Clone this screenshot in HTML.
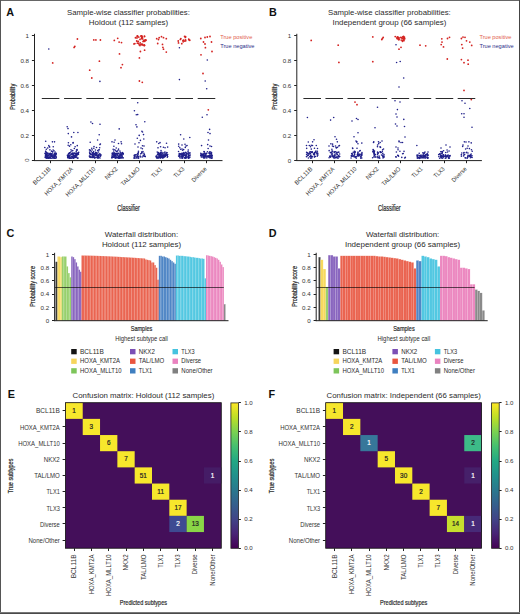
<!DOCTYPE html>
<html><head><meta charset="utf-8"><style>
html,body{margin:0;padding:0;background:#fff;}
#fig{position:relative;width:520px;height:614px;overflow:hidden;background:#fff;}
#fig svg{position:absolute;left:0;top:0;}
text{font-family:"Liberation Sans", sans-serif;}
</style></head><body><div id="fig">
<svg width="520" height="614" viewBox="0 0 520 614">
<rect x="0" y="0" width="520" height="614" fill="#fff"/>
<rect x="0" y="0" width="520" height="1" fill="#666"/>
<rect x="0" y="0" width="1" height="614" fill="#555"/>
<rect x="519" y="0" width="1" height="614" fill="#444"/>
<rect x="0" y="612" width="520" height="2" fill="#4a4a4a"/>
<rect x="0" y="612" width="520" height="0.5" fill="#fff" fill-opacity="0.5"/>
<text x="6.30" y="15.80" font-size="10.8" text-anchor="start" fill="#111" font-weight="bold" >A</text>
<text x="268.90" y="15.80" font-size="10.8" text-anchor="start" fill="#111" font-weight="bold" >B</text>
<text x="6.60" y="237.30" font-size="10.8" text-anchor="start" fill="#111" font-weight="bold" >C</text>
<text x="268.70" y="237.00" font-size="10.8" text-anchor="start" fill="#111" font-weight="bold" >D</text>
<text x="7.80" y="398.00" font-size="10.8" text-anchor="start" fill="#111" font-weight="bold" >E</text>
<text x="268.60" y="398.00" font-size="10.8" text-anchor="start" fill="#111" font-weight="bold" >F</text>
<text x="128.50" y="15.30" font-size="7.8" text-anchor="middle" fill="#2b2b2b" textLength="122.8" lengthAdjust="spacingAndGlyphs" >Sample-wise classifier probabilities:</text>
<text x="128.50" y="25.00" font-size="7.8" text-anchor="middle" fill="#2b2b2b" textLength="79.4" lengthAdjust="spacingAndGlyphs" >Holdout (112 samples)</text>
<text x="220.20" y="38.60" font-size="5.65" text-anchor="start" fill="#e2604e" >True positive</text>
<text x="220.20" y="47.60" font-size="5.65" text-anchor="start" fill="#2e2e88" >True negative</text>
<line x1="41.80" y1="98.50" x2="59.40" y2="98.50" stroke="#2a2a2a" stroke-width="1.0"/>
<line x1="64.07" y1="98.50" x2="81.67" y2="98.50" stroke="#2a2a2a" stroke-width="1.0"/>
<line x1="86.34" y1="98.50" x2="103.94" y2="98.50" stroke="#2a2a2a" stroke-width="1.0"/>
<line x1="108.61" y1="98.50" x2="126.21" y2="98.50" stroke="#2a2a2a" stroke-width="1.0"/>
<line x1="130.88" y1="98.50" x2="148.48" y2="98.50" stroke="#2a2a2a" stroke-width="1.0"/>
<line x1="153.15" y1="98.50" x2="170.75" y2="98.50" stroke="#2a2a2a" stroke-width="1.0"/>
<line x1="175.42" y1="98.50" x2="193.02" y2="98.50" stroke="#2a2a2a" stroke-width="1.0"/>
<line x1="197.69" y1="98.50" x2="215.29" y2="98.50" stroke="#2a2a2a" stroke-width="1.0"/>
<circle cx="48.80" cy="49.00" r="0.8" fill="#20208a"/>
<circle cx="52.70" cy="62.90" r="0.9" fill="#d42422"/>
<circle cx="45.70" cy="141.20" r="0.8" fill="#20208a"/>
<circle cx="48.80" cy="145.50" r="0.8" fill="#20208a"/>
<circle cx="55.52" cy="155.43" r="0.8" fill="#20208a"/>
<circle cx="51.61" cy="155.70" r="0.8" fill="#20208a"/>
<circle cx="52.11" cy="155.68" r="0.8" fill="#20208a"/>
<circle cx="48.32" cy="157.86" r="0.8" fill="#20208a"/>
<circle cx="52.84" cy="154.12" r="0.8" fill="#20208a"/>
<circle cx="55.99" cy="153.22" r="0.8" fill="#20208a"/>
<circle cx="46.63" cy="155.13" r="0.8" fill="#20208a"/>
<circle cx="45.49" cy="155.59" r="0.8" fill="#20208a"/>
<circle cx="45.15" cy="157.09" r="0.8" fill="#20208a"/>
<circle cx="54.57" cy="156.05" r="0.8" fill="#20208a"/>
<circle cx="50.60" cy="155.00" r="0.8" fill="#20208a"/>
<circle cx="48.03" cy="155.96" r="0.8" fill="#20208a"/>
<circle cx="54.55" cy="141.85" r="0.8" fill="#20208a"/>
<circle cx="47.46" cy="156.70" r="0.8" fill="#20208a"/>
<circle cx="53.69" cy="157.98" r="0.8" fill="#20208a"/>
<circle cx="49.28" cy="153.93" r="0.8" fill="#20208a"/>
<circle cx="44.81" cy="147.44" r="0.8" fill="#20208a"/>
<circle cx="50.25" cy="153.59" r="0.8" fill="#20208a"/>
<circle cx="45.65" cy="151.59" r="0.8" fill="#20208a"/>
<circle cx="47.93" cy="154.28" r="0.8" fill="#20208a"/>
<circle cx="55.98" cy="156.61" r="0.8" fill="#20208a"/>
<circle cx="47.66" cy="157.73" r="0.8" fill="#20208a"/>
<circle cx="54.05" cy="158.04" r="0.8" fill="#20208a"/>
<circle cx="49.99" cy="155.43" r="0.8" fill="#20208a"/>
<circle cx="46.32" cy="154.53" r="0.8" fill="#20208a"/>
<circle cx="49.68" cy="157.74" r="0.8" fill="#20208a"/>
<circle cx="56.06" cy="156.94" r="0.8" fill="#20208a"/>
<circle cx="55.06" cy="152.03" r="0.8" fill="#20208a"/>
<circle cx="54.71" cy="156.29" r="0.8" fill="#20208a"/>
<circle cx="56.28" cy="157.83" r="0.8" fill="#20208a"/>
<circle cx="53.76" cy="157.00" r="0.8" fill="#20208a"/>
<circle cx="45.65" cy="156.80" r="0.8" fill="#20208a"/>
<circle cx="47.62" cy="155.31" r="0.8" fill="#20208a"/>
<circle cx="50.06" cy="156.41" r="0.8" fill="#20208a"/>
<circle cx="51.47" cy="151.13" r="0.8" fill="#20208a"/>
<circle cx="46.59" cy="152.51" r="0.8" fill="#20208a"/>
<circle cx="47.69" cy="147.97" r="0.8" fill="#20208a"/>
<circle cx="55.71" cy="154.49" r="0.8" fill="#20208a"/>
<circle cx="55.03" cy="153.39" r="0.8" fill="#20208a"/>
<circle cx="46.00" cy="156.15" r="0.8" fill="#20208a"/>
<circle cx="47.57" cy="153.32" r="0.8" fill="#20208a"/>
<circle cx="54.36" cy="157.01" r="0.8" fill="#20208a"/>
<circle cx="46.84" cy="156.82" r="0.8" fill="#20208a"/>
<circle cx="47.45" cy="157.99" r="0.8" fill="#20208a"/>
<circle cx="51.93" cy="153.90" r="0.8" fill="#20208a"/>
<circle cx="47.17" cy="153.56" r="0.8" fill="#20208a"/>
<circle cx="49.97" cy="156.94" r="0.8" fill="#20208a"/>
<circle cx="49.08" cy="157.43" r="0.8" fill="#20208a"/>
<circle cx="49.00" cy="157.66" r="0.8" fill="#20208a"/>
<circle cx="52.42" cy="141.85" r="0.8" fill="#20208a"/>
<circle cx="46.43" cy="155.30" r="0.8" fill="#20208a"/>
<circle cx="55.36" cy="158.26" r="0.8" fill="#20208a"/>
<circle cx="45.05" cy="153.32" r="0.8" fill="#20208a"/>
<circle cx="53.27" cy="155.83" r="0.8" fill="#20208a"/>
<circle cx="45.67" cy="153.13" r="0.8" fill="#20208a"/>
<circle cx="55.24" cy="154.50" r="0.8" fill="#20208a"/>
<circle cx="54.00" cy="154.67" r="0.8" fill="#20208a"/>
<circle cx="52.75" cy="151.81" r="0.8" fill="#20208a"/>
<circle cx="49.64" cy="146.93" r="0.8" fill="#20208a"/>
<circle cx="51.44" cy="153.84" r="0.8" fill="#20208a"/>
<circle cx="51.56" cy="156.35" r="0.8" fill="#20208a"/>
<circle cx="52.22" cy="157.93" r="0.8" fill="#20208a"/>
<circle cx="53.25" cy="146.72" r="0.8" fill="#20208a"/>
<circle cx="51.54" cy="154.51" r="0.8" fill="#20208a"/>
<circle cx="45.77" cy="153.97" r="0.8" fill="#20208a"/>
<circle cx="51.77" cy="158.19" r="0.8" fill="#20208a"/>
<circle cx="52.90" cy="157.15" r="0.8" fill="#20208a"/>
<circle cx="55.48" cy="155.14" r="0.8" fill="#20208a"/>
<circle cx="48.29" cy="158.29" r="0.8" fill="#20208a"/>
<circle cx="46.77" cy="157.29" r="0.8" fill="#20208a"/>
<circle cx="49.93" cy="149.86" r="0.8" fill="#20208a"/>
<circle cx="52.52" cy="151.93" r="0.8" fill="#20208a"/>
<circle cx="54.15" cy="156.10" r="0.8" fill="#20208a"/>
<circle cx="49.26" cy="146.70" r="0.8" fill="#20208a"/>
<circle cx="46.38" cy="156.70" r="0.8" fill="#20208a"/>
<circle cx="54.65" cy="153.98" r="0.8" fill="#20208a"/>
<circle cx="48.01" cy="153.39" r="0.8" fill="#20208a"/>
<circle cx="47.99" cy="156.00" r="0.8" fill="#20208a"/>
<circle cx="52.06" cy="156.19" r="0.8" fill="#20208a"/>
<circle cx="54.53" cy="156.70" r="0.8" fill="#20208a"/>
<circle cx="45.67" cy="151.30" r="0.8" fill="#20208a"/>
<circle cx="45.28" cy="153.79" r="0.8" fill="#20208a"/>
<circle cx="48.38" cy="155.37" r="0.8" fill="#20208a"/>
<circle cx="46.38" cy="158.25" r="0.8" fill="#20208a"/>
<circle cx="54.42" cy="158.22" r="0.8" fill="#20208a"/>
<circle cx="45.34" cy="157.61" r="0.8" fill="#20208a"/>
<circle cx="52.11" cy="156.02" r="0.8" fill="#20208a"/>
<circle cx="55.92" cy="154.13" r="0.8" fill="#20208a"/>
<circle cx="50.31" cy="157.31" r="0.8" fill="#20208a"/>
<circle cx="50.28" cy="158.29" r="0.8" fill="#20208a"/>
<circle cx="47.96" cy="157.41" r="0.8" fill="#20208a"/>
<circle cx="50.84" cy="154.71" r="0.8" fill="#20208a"/>
<circle cx="49.36" cy="154.40" r="0.8" fill="#20208a"/>
<circle cx="45.81" cy="153.61" r="0.8" fill="#20208a"/>
<circle cx="46.31" cy="149.25" r="0.8" fill="#20208a"/>
<circle cx="55.36" cy="155.08" r="0.8" fill="#20208a"/>
<circle cx="55.00" cy="155.38" r="0.8" fill="#20208a"/>
<circle cx="50.18" cy="153.42" r="0.8" fill="#20208a"/>
<circle cx="53.17" cy="157.28" r="0.8" fill="#20208a"/>
<circle cx="53.12" cy="150.02" r="0.8" fill="#20208a"/>
<circle cx="56.17" cy="153.65" r="0.8" fill="#20208a"/>
<circle cx="53.97" cy="150.80" r="0.8" fill="#20208a"/>
<circle cx="54.73" cy="153.60" r="0.8" fill="#20208a"/>
<circle cx="49.91" cy="157.92" r="0.8" fill="#20208a"/>
<circle cx="50.45" cy="154.34" r="0.8" fill="#20208a"/>
<circle cx="45.54" cy="154.12" r="0.8" fill="#20208a"/>
<circle cx="48.69" cy="157.45" r="0.8" fill="#20208a"/>
<circle cx="46.52" cy="157.62" r="0.8" fill="#20208a"/>
<circle cx="74.80" cy="46.40" r="0.9" fill="#d42422"/>
<circle cx="74.10" cy="47.40" r="0.9" fill="#d42422"/>
<circle cx="77.40" cy="39.00" r="0.9" fill="#d42422"/>
<circle cx="67.20" cy="126.80" r="0.8" fill="#20208a"/>
<circle cx="68.00" cy="128.60" r="0.8" fill="#20208a"/>
<circle cx="68.30" cy="133.60" r="0.8" fill="#20208a"/>
<circle cx="73.80" cy="132.50" r="0.8" fill="#20208a"/>
<circle cx="77.90" cy="132.50" r="0.8" fill="#20208a"/>
<circle cx="71.50" cy="136.90" r="0.8" fill="#20208a"/>
<circle cx="70.80" cy="144.80" r="0.8" fill="#20208a"/>
<circle cx="73.00" cy="143.00" r="0.8" fill="#20208a"/>
<circle cx="76.81" cy="154.57" r="0.8" fill="#20208a"/>
<circle cx="72.78" cy="153.41" r="0.8" fill="#20208a"/>
<circle cx="69.64" cy="152.85" r="0.8" fill="#20208a"/>
<circle cx="75.52" cy="156.83" r="0.8" fill="#20208a"/>
<circle cx="76.86" cy="155.62" r="0.8" fill="#20208a"/>
<circle cx="71.49" cy="156.72" r="0.8" fill="#20208a"/>
<circle cx="69.49" cy="146.14" r="0.8" fill="#20208a"/>
<circle cx="73.15" cy="142.67" r="0.8" fill="#20208a"/>
<circle cx="73.29" cy="157.30" r="0.8" fill="#20208a"/>
<circle cx="67.39" cy="155.19" r="0.8" fill="#20208a"/>
<circle cx="71.72" cy="150.93" r="0.8" fill="#20208a"/>
<circle cx="72.77" cy="150.62" r="0.8" fill="#20208a"/>
<circle cx="73.32" cy="158.01" r="0.8" fill="#20208a"/>
<circle cx="77.78" cy="153.35" r="0.8" fill="#20208a"/>
<circle cx="68.54" cy="155.88" r="0.8" fill="#20208a"/>
<circle cx="77.52" cy="154.09" r="0.8" fill="#20208a"/>
<circle cx="69.29" cy="156.69" r="0.8" fill="#20208a"/>
<circle cx="68.57" cy="153.52" r="0.8" fill="#20208a"/>
<circle cx="69.32" cy="158.23" r="0.8" fill="#20208a"/>
<circle cx="70.81" cy="154.76" r="0.8" fill="#20208a"/>
<circle cx="68.29" cy="155.11" r="0.8" fill="#20208a"/>
<circle cx="72.99" cy="157.71" r="0.8" fill="#20208a"/>
<circle cx="73.22" cy="157.32" r="0.8" fill="#20208a"/>
<circle cx="71.87" cy="156.39" r="0.8" fill="#20208a"/>
<circle cx="69.44" cy="157.52" r="0.8" fill="#20208a"/>
<circle cx="73.21" cy="155.01" r="0.8" fill="#20208a"/>
<circle cx="77.01" cy="150.26" r="0.8" fill="#20208a"/>
<circle cx="76.47" cy="154.48" r="0.8" fill="#20208a"/>
<circle cx="70.72" cy="151.98" r="0.8" fill="#20208a"/>
<circle cx="78.65" cy="152.38" r="0.8" fill="#20208a"/>
<circle cx="69.85" cy="152.69" r="0.8" fill="#20208a"/>
<circle cx="68.20" cy="156.99" r="0.8" fill="#20208a"/>
<circle cx="76.23" cy="151.47" r="0.8" fill="#20208a"/>
<circle cx="75.02" cy="156.25" r="0.8" fill="#20208a"/>
<circle cx="74.99" cy="157.30" r="0.8" fill="#20208a"/>
<circle cx="68.41" cy="142.68" r="0.8" fill="#20208a"/>
<circle cx="72.90" cy="154.39" r="0.8" fill="#20208a"/>
<circle cx="67.89" cy="157.36" r="0.8" fill="#20208a"/>
<circle cx="73.47" cy="158.15" r="0.8" fill="#20208a"/>
<circle cx="68.77" cy="155.38" r="0.8" fill="#20208a"/>
<circle cx="76.82" cy="157.28" r="0.8" fill="#20208a"/>
<circle cx="68.17" cy="145.21" r="0.8" fill="#20208a"/>
<circle cx="72.43" cy="153.38" r="0.8" fill="#20208a"/>
<circle cx="72.49" cy="156.64" r="0.8" fill="#20208a"/>
<circle cx="74.04" cy="156.10" r="0.8" fill="#20208a"/>
<circle cx="76.86" cy="154.69" r="0.8" fill="#20208a"/>
<circle cx="75.65" cy="155.98" r="0.8" fill="#20208a"/>
<circle cx="68.98" cy="157.33" r="0.8" fill="#20208a"/>
<circle cx="77.43" cy="158.27" r="0.8" fill="#20208a"/>
<circle cx="77.05" cy="149.44" r="0.8" fill="#20208a"/>
<circle cx="74.03" cy="156.24" r="0.8" fill="#20208a"/>
<circle cx="76.41" cy="153.22" r="0.8" fill="#20208a"/>
<circle cx="75.71" cy="153.59" r="0.8" fill="#20208a"/>
<circle cx="71.78" cy="154.09" r="0.8" fill="#20208a"/>
<circle cx="75.13" cy="146.72" r="0.8" fill="#20208a"/>
<circle cx="71.78" cy="154.35" r="0.8" fill="#20208a"/>
<circle cx="71.03" cy="157.98" r="0.8" fill="#20208a"/>
<circle cx="71.20" cy="158.29" r="0.8" fill="#20208a"/>
<circle cx="69.76" cy="155.09" r="0.8" fill="#20208a"/>
<circle cx="70.99" cy="149.81" r="0.8" fill="#20208a"/>
<circle cx="73.25" cy="155.37" r="0.8" fill="#20208a"/>
<circle cx="74.52" cy="153.13" r="0.8" fill="#20208a"/>
<circle cx="78.44" cy="154.37" r="0.8" fill="#20208a"/>
<circle cx="75.64" cy="155.13" r="0.8" fill="#20208a"/>
<circle cx="67.66" cy="156.25" r="0.8" fill="#20208a"/>
<circle cx="68.21" cy="156.39" r="0.8" fill="#20208a"/>
<circle cx="73.45" cy="153.62" r="0.8" fill="#20208a"/>
<circle cx="73.66" cy="153.30" r="0.8" fill="#20208a"/>
<circle cx="76.46" cy="150.05" r="0.8" fill="#20208a"/>
<circle cx="75.88" cy="155.23" r="0.8" fill="#20208a"/>
<circle cx="68.93" cy="153.49" r="0.8" fill="#20208a"/>
<circle cx="72.82" cy="157.47" r="0.8" fill="#20208a"/>
<circle cx="78.04" cy="158.04" r="0.8" fill="#20208a"/>
<circle cx="74.00" cy="155.60" r="0.8" fill="#20208a"/>
<circle cx="74.67" cy="156.86" r="0.8" fill="#20208a"/>
<circle cx="75.38" cy="156.87" r="0.8" fill="#20208a"/>
<circle cx="69.91" cy="158.28" r="0.8" fill="#20208a"/>
<circle cx="75.82" cy="157.53" r="0.8" fill="#20208a"/>
<circle cx="75.75" cy="153.66" r="0.8" fill="#20208a"/>
<circle cx="78.03" cy="153.18" r="0.8" fill="#20208a"/>
<circle cx="72.05" cy="153.62" r="0.8" fill="#20208a"/>
<circle cx="69.90" cy="153.27" r="0.8" fill="#20208a"/>
<circle cx="75.45" cy="153.45" r="0.8" fill="#20208a"/>
<circle cx="76.54" cy="153.24" r="0.8" fill="#20208a"/>
<circle cx="74.31" cy="157.75" r="0.8" fill="#20208a"/>
<circle cx="67.67" cy="157.29" r="0.8" fill="#20208a"/>
<circle cx="72.21" cy="157.70" r="0.8" fill="#20208a"/>
<circle cx="70.11" cy="155.97" r="0.8" fill="#20208a"/>
<circle cx="76.09" cy="156.16" r="0.8" fill="#20208a"/>
<circle cx="78.12" cy="153.14" r="0.8" fill="#20208a"/>
<circle cx="68.39" cy="157.10" r="0.8" fill="#20208a"/>
<circle cx="74.32" cy="148.48" r="0.8" fill="#20208a"/>
<circle cx="75.02" cy="156.93" r="0.8" fill="#20208a"/>
<circle cx="74.41" cy="155.26" r="0.8" fill="#20208a"/>
<circle cx="69.96" cy="157.36" r="0.8" fill="#20208a"/>
<circle cx="77.26" cy="145.64" r="0.8" fill="#20208a"/>
<circle cx="70.21" cy="158.03" r="0.8" fill="#20208a"/>
<circle cx="68.26" cy="155.09" r="0.8" fill="#20208a"/>
<circle cx="68.07" cy="157.97" r="0.8" fill="#20208a"/>
<circle cx="74.39" cy="155.47" r="0.8" fill="#20208a"/>
<circle cx="69.51" cy="155.85" r="0.8" fill="#20208a"/>
<circle cx="93.80" cy="39.90" r="0.9" fill="#d42422"/>
<circle cx="95.90" cy="39.90" r="0.9" fill="#d42422"/>
<circle cx="100.40" cy="40.00" r="0.9" fill="#d42422"/>
<circle cx="99.40" cy="61.20" r="0.9" fill="#d42422"/>
<circle cx="89.70" cy="70.20" r="0.9" fill="#d42422"/>
<circle cx="91.80" cy="78.00" r="0.9" fill="#d42422"/>
<circle cx="99.90" cy="81.40" r="0.8" fill="#20208a"/>
<circle cx="90.90" cy="122.00" r="0.8" fill="#20208a"/>
<circle cx="92.50" cy="123.50" r="0.8" fill="#20208a"/>
<circle cx="100.00" cy="124.20" r="0.8" fill="#20208a"/>
<circle cx="99.20" cy="134.80" r="0.8" fill="#20208a"/>
<circle cx="97.60" cy="140.00" r="0.8" fill="#20208a"/>
<circle cx="90.20" cy="142.20" r="0.8" fill="#20208a"/>
<circle cx="94.00" cy="146.50" r="0.8" fill="#20208a"/>
<circle cx="96.50" cy="147.50" r="0.8" fill="#20208a"/>
<circle cx="100.40" cy="144.00" r="0.8" fill="#20208a"/>
<circle cx="99.07" cy="154.46" r="0.8" fill="#20208a"/>
<circle cx="98.73" cy="157.72" r="0.8" fill="#20208a"/>
<circle cx="91.81" cy="154.33" r="0.8" fill="#20208a"/>
<circle cx="98.73" cy="157.00" r="0.8" fill="#20208a"/>
<circle cx="100.81" cy="154.93" r="0.8" fill="#20208a"/>
<circle cx="97.99" cy="155.48" r="0.8" fill="#20208a"/>
<circle cx="93.62" cy="151.44" r="0.8" fill="#20208a"/>
<circle cx="90.25" cy="153.78" r="0.8" fill="#20208a"/>
<circle cx="94.96" cy="155.40" r="0.8" fill="#20208a"/>
<circle cx="98.34" cy="156.79" r="0.8" fill="#20208a"/>
<circle cx="97.02" cy="157.24" r="0.8" fill="#20208a"/>
<circle cx="97.75" cy="156.76" r="0.8" fill="#20208a"/>
<circle cx="91.00" cy="156.87" r="0.8" fill="#20208a"/>
<circle cx="93.59" cy="154.56" r="0.8" fill="#20208a"/>
<circle cx="95.94" cy="154.64" r="0.8" fill="#20208a"/>
<circle cx="99.94" cy="144.62" r="0.8" fill="#20208a"/>
<circle cx="92.88" cy="154.15" r="0.8" fill="#20208a"/>
<circle cx="100.18" cy="156.26" r="0.8" fill="#20208a"/>
<circle cx="93.54" cy="152.26" r="0.8" fill="#20208a"/>
<circle cx="93.93" cy="156.45" r="0.8" fill="#20208a"/>
<circle cx="95.88" cy="157.33" r="0.8" fill="#20208a"/>
<circle cx="99.04" cy="155.53" r="0.8" fill="#20208a"/>
<circle cx="98.14" cy="157.43" r="0.8" fill="#20208a"/>
<circle cx="89.60" cy="152.13" r="0.8" fill="#20208a"/>
<circle cx="95.92" cy="155.51" r="0.8" fill="#20208a"/>
<circle cx="98.67" cy="149.94" r="0.8" fill="#20208a"/>
<circle cx="98.48" cy="155.49" r="0.8" fill="#20208a"/>
<circle cx="97.89" cy="157.92" r="0.8" fill="#20208a"/>
<circle cx="96.70" cy="152.86" r="0.8" fill="#20208a"/>
<circle cx="96.87" cy="154.45" r="0.8" fill="#20208a"/>
<circle cx="98.22" cy="157.20" r="0.8" fill="#20208a"/>
<circle cx="93.91" cy="154.35" r="0.8" fill="#20208a"/>
<circle cx="97.14" cy="153.29" r="0.8" fill="#20208a"/>
<circle cx="97.70" cy="155.54" r="0.8" fill="#20208a"/>
<circle cx="94.10" cy="153.57" r="0.8" fill="#20208a"/>
<circle cx="99.24" cy="149.80" r="0.8" fill="#20208a"/>
<circle cx="99.65" cy="147.70" r="0.8" fill="#20208a"/>
<circle cx="95.42" cy="150.03" r="0.8" fill="#20208a"/>
<circle cx="94.23" cy="154.16" r="0.8" fill="#20208a"/>
<circle cx="97.94" cy="157.59" r="0.8" fill="#20208a"/>
<circle cx="91.28" cy="151.70" r="0.8" fill="#20208a"/>
<circle cx="92.73" cy="156.13" r="0.8" fill="#20208a"/>
<circle cx="92.92" cy="152.94" r="0.8" fill="#20208a"/>
<circle cx="98.34" cy="154.96" r="0.8" fill="#20208a"/>
<circle cx="94.66" cy="158.02" r="0.8" fill="#20208a"/>
<circle cx="89.76" cy="153.60" r="0.8" fill="#20208a"/>
<circle cx="91.86" cy="157.39" r="0.8" fill="#20208a"/>
<circle cx="96.24" cy="154.60" r="0.8" fill="#20208a"/>
<circle cx="92.60" cy="157.38" r="0.8" fill="#20208a"/>
<circle cx="92.96" cy="154.39" r="0.8" fill="#20208a"/>
<circle cx="94.90" cy="154.08" r="0.8" fill="#20208a"/>
<circle cx="99.95" cy="153.71" r="0.8" fill="#20208a"/>
<circle cx="100.44" cy="155.49" r="0.8" fill="#20208a"/>
<circle cx="89.92" cy="157.20" r="0.8" fill="#20208a"/>
<circle cx="93.81" cy="148.23" r="0.8" fill="#20208a"/>
<circle cx="92.52" cy="155.65" r="0.8" fill="#20208a"/>
<circle cx="92.10" cy="149.88" r="0.8" fill="#20208a"/>
<circle cx="93.65" cy="155.88" r="0.8" fill="#20208a"/>
<circle cx="96.37" cy="154.62" r="0.8" fill="#20208a"/>
<circle cx="93.07" cy="157.53" r="0.8" fill="#20208a"/>
<circle cx="95.33" cy="153.81" r="0.8" fill="#20208a"/>
<circle cx="92.43" cy="153.16" r="0.8" fill="#20208a"/>
<circle cx="98.28" cy="157.56" r="0.8" fill="#20208a"/>
<circle cx="99.16" cy="154.06" r="0.8" fill="#20208a"/>
<circle cx="92.47" cy="152.86" r="0.8" fill="#20208a"/>
<circle cx="94.91" cy="157.84" r="0.8" fill="#20208a"/>
<circle cx="96.14" cy="153.36" r="0.8" fill="#20208a"/>
<circle cx="98.50" cy="152.03" r="0.8" fill="#20208a"/>
<circle cx="90.39" cy="153.56" r="0.8" fill="#20208a"/>
<circle cx="95.64" cy="152.42" r="0.8" fill="#20208a"/>
<circle cx="98.99" cy="157.53" r="0.8" fill="#20208a"/>
<circle cx="90.22" cy="156.73" r="0.8" fill="#20208a"/>
<circle cx="97.64" cy="155.91" r="0.8" fill="#20208a"/>
<circle cx="90.57" cy="154.76" r="0.8" fill="#20208a"/>
<circle cx="100.56" cy="155.94" r="0.8" fill="#20208a"/>
<circle cx="89.48" cy="149.92" r="0.8" fill="#20208a"/>
<circle cx="92.09" cy="154.64" r="0.8" fill="#20208a"/>
<circle cx="89.46" cy="155.96" r="0.8" fill="#20208a"/>
<circle cx="91.74" cy="148.26" r="0.8" fill="#20208a"/>
<circle cx="93.70" cy="156.83" r="0.8" fill="#20208a"/>
<circle cx="93.25" cy="156.79" r="0.8" fill="#20208a"/>
<circle cx="92.31" cy="154.87" r="0.8" fill="#20208a"/>
<circle cx="93.16" cy="154.53" r="0.8" fill="#20208a"/>
<circle cx="97.74" cy="150.62" r="0.8" fill="#20208a"/>
<circle cx="90.41" cy="154.03" r="0.8" fill="#20208a"/>
<circle cx="97.20" cy="157.86" r="0.8" fill="#20208a"/>
<circle cx="94.01" cy="157.41" r="0.8" fill="#20208a"/>
<circle cx="90.39" cy="150.41" r="0.8" fill="#20208a"/>
<circle cx="90.78" cy="157.53" r="0.8" fill="#20208a"/>
<circle cx="100.02" cy="157.97" r="0.8" fill="#20208a"/>
<circle cx="96.85" cy="155.68" r="0.8" fill="#20208a"/>
<circle cx="93.82" cy="154.06" r="0.8" fill="#20208a"/>
<circle cx="89.52" cy="156.20" r="0.8" fill="#20208a"/>
<circle cx="100.73" cy="154.69" r="0.8" fill="#20208a"/>
<circle cx="96.40" cy="154.90" r="0.8" fill="#20208a"/>
<circle cx="93.31" cy="156.62" r="0.8" fill="#20208a"/>
<circle cx="114.30" cy="40.40" r="0.9" fill="#d42422"/>
<circle cx="117.70" cy="38.30" r="0.9" fill="#d42422"/>
<circle cx="119.10" cy="42.10" r="0.9" fill="#d42422"/>
<circle cx="121.50" cy="42.60" r="0.9" fill="#d42422"/>
<circle cx="119.50" cy="53.90" r="0.9" fill="#d42422"/>
<circle cx="122.40" cy="64.60" r="0.9" fill="#d42422"/>
<circle cx="121.00" cy="67.70" r="0.9" fill="#d42422"/>
<circle cx="119.20" cy="128.90" r="0.8" fill="#20208a"/>
<circle cx="114.10" cy="142.20" r="0.8" fill="#20208a"/>
<circle cx="115.00" cy="140.00" r="0.8" fill="#20208a"/>
<circle cx="118.50" cy="143.50" r="0.8" fill="#20208a"/>
<circle cx="121.50" cy="143.80" r="0.8" fill="#20208a"/>
<circle cx="115.99" cy="157.79" r="0.8" fill="#20208a"/>
<circle cx="121.18" cy="154.23" r="0.8" fill="#20208a"/>
<circle cx="120.50" cy="157.52" r="0.8" fill="#20208a"/>
<circle cx="115.70" cy="150.72" r="0.8" fill="#20208a"/>
<circle cx="119.89" cy="157.61" r="0.8" fill="#20208a"/>
<circle cx="119.91" cy="150.93" r="0.8" fill="#20208a"/>
<circle cx="122.57" cy="152.46" r="0.8" fill="#20208a"/>
<circle cx="112.58" cy="157.32" r="0.8" fill="#20208a"/>
<circle cx="119.70" cy="155.34" r="0.8" fill="#20208a"/>
<circle cx="115.80" cy="153.50" r="0.8" fill="#20208a"/>
<circle cx="122.90" cy="157.70" r="0.8" fill="#20208a"/>
<circle cx="117.91" cy="153.63" r="0.8" fill="#20208a"/>
<circle cx="114.68" cy="155.42" r="0.8" fill="#20208a"/>
<circle cx="121.09" cy="141.85" r="0.8" fill="#20208a"/>
<circle cx="121.18" cy="157.71" r="0.8" fill="#20208a"/>
<circle cx="114.40" cy="153.66" r="0.8" fill="#20208a"/>
<circle cx="113.76" cy="154.01" r="0.8" fill="#20208a"/>
<circle cx="111.98" cy="157.95" r="0.8" fill="#20208a"/>
<circle cx="122.51" cy="153.19" r="0.8" fill="#20208a"/>
<circle cx="119.40" cy="156.74" r="0.8" fill="#20208a"/>
<circle cx="118.48" cy="156.36" r="0.8" fill="#20208a"/>
<circle cx="113.92" cy="153.08" r="0.8" fill="#20208a"/>
<circle cx="116.09" cy="157.60" r="0.8" fill="#20208a"/>
<circle cx="117.64" cy="157.44" r="0.8" fill="#20208a"/>
<circle cx="115.46" cy="155.38" r="0.8" fill="#20208a"/>
<circle cx="119.39" cy="158.15" r="0.8" fill="#20208a"/>
<circle cx="118.57" cy="153.34" r="0.8" fill="#20208a"/>
<circle cx="118.85" cy="156.20" r="0.8" fill="#20208a"/>
<circle cx="120.33" cy="154.39" r="0.8" fill="#20208a"/>
<circle cx="121.33" cy="153.15" r="0.8" fill="#20208a"/>
<circle cx="116.64" cy="151.53" r="0.8" fill="#20208a"/>
<circle cx="117.71" cy="153.62" r="0.8" fill="#20208a"/>
<circle cx="122.10" cy="156.09" r="0.8" fill="#20208a"/>
<circle cx="120.03" cy="158.06" r="0.8" fill="#20208a"/>
<circle cx="118.54" cy="149.14" r="0.8" fill="#20208a"/>
<circle cx="118.49" cy="156.76" r="0.8" fill="#20208a"/>
<circle cx="116.79" cy="157.70" r="0.8" fill="#20208a"/>
<circle cx="112.21" cy="156.28" r="0.8" fill="#20208a"/>
<circle cx="114.38" cy="155.60" r="0.8" fill="#20208a"/>
<circle cx="114.35" cy="156.28" r="0.8" fill="#20208a"/>
<circle cx="122.82" cy="153.59" r="0.8" fill="#20208a"/>
<circle cx="116.50" cy="153.82" r="0.8" fill="#20208a"/>
<circle cx="120.27" cy="152.37" r="0.8" fill="#20208a"/>
<circle cx="112.75" cy="153.63" r="0.8" fill="#20208a"/>
<circle cx="117.85" cy="157.70" r="0.8" fill="#20208a"/>
<circle cx="114.44" cy="153.12" r="0.8" fill="#20208a"/>
<circle cx="112.34" cy="156.65" r="0.8" fill="#20208a"/>
<circle cx="116.22" cy="148.01" r="0.8" fill="#20208a"/>
<circle cx="112.14" cy="155.29" r="0.8" fill="#20208a"/>
<circle cx="115.18" cy="153.66" r="0.8" fill="#20208a"/>
<circle cx="122.95" cy="153.47" r="0.8" fill="#20208a"/>
<circle cx="115.04" cy="157.27" r="0.8" fill="#20208a"/>
<circle cx="113.88" cy="146.26" r="0.8" fill="#20208a"/>
<circle cx="117.09" cy="151.80" r="0.8" fill="#20208a"/>
<circle cx="123.16" cy="153.75" r="0.8" fill="#20208a"/>
<circle cx="113.83" cy="155.05" r="0.8" fill="#20208a"/>
<circle cx="112.84" cy="152.97" r="0.8" fill="#20208a"/>
<circle cx="122.05" cy="156.71" r="0.8" fill="#20208a"/>
<circle cx="113.17" cy="149.35" r="0.8" fill="#20208a"/>
<circle cx="116.77" cy="153.45" r="0.8" fill="#20208a"/>
<circle cx="115.17" cy="157.18" r="0.8" fill="#20208a"/>
<circle cx="113.71" cy="157.32" r="0.8" fill="#20208a"/>
<circle cx="120.78" cy="154.88" r="0.8" fill="#20208a"/>
<circle cx="121.87" cy="154.89" r="0.8" fill="#20208a"/>
<circle cx="115.10" cy="157.15" r="0.8" fill="#20208a"/>
<circle cx="114.82" cy="149.80" r="0.8" fill="#20208a"/>
<circle cx="123.01" cy="157.88" r="0.8" fill="#20208a"/>
<circle cx="117.77" cy="155.59" r="0.8" fill="#20208a"/>
<circle cx="114.91" cy="155.22" r="0.8" fill="#20208a"/>
<circle cx="112.62" cy="154.15" r="0.8" fill="#20208a"/>
<circle cx="114.46" cy="154.40" r="0.8" fill="#20208a"/>
<circle cx="113.77" cy="155.49" r="0.8" fill="#20208a"/>
<circle cx="112.00" cy="141.85" r="0.8" fill="#20208a"/>
<circle cx="116.07" cy="154.43" r="0.8" fill="#20208a"/>
<circle cx="113.70" cy="151.03" r="0.8" fill="#20208a"/>
<circle cx="115.78" cy="154.98" r="0.8" fill="#20208a"/>
<circle cx="117.60" cy="154.26" r="0.8" fill="#20208a"/>
<circle cx="119.55" cy="153.93" r="0.8" fill="#20208a"/>
<circle cx="113.63" cy="153.38" r="0.8" fill="#20208a"/>
<circle cx="118.66" cy="157.49" r="0.8" fill="#20208a"/>
<circle cx="120.58" cy="156.05" r="0.8" fill="#20208a"/>
<circle cx="114.35" cy="154.22" r="0.8" fill="#20208a"/>
<circle cx="118.34" cy="157.19" r="0.8" fill="#20208a"/>
<circle cx="118.53" cy="158.17" r="0.8" fill="#20208a"/>
<circle cx="121.74" cy="155.36" r="0.8" fill="#20208a"/>
<circle cx="111.82" cy="157.56" r="0.8" fill="#20208a"/>
<circle cx="116.73" cy="156.08" r="0.8" fill="#20208a"/>
<circle cx="112.45" cy="154.18" r="0.8" fill="#20208a"/>
<circle cx="117.91" cy="150.58" r="0.8" fill="#20208a"/>
<circle cx="113.31" cy="157.11" r="0.8" fill="#20208a"/>
<circle cx="115.26" cy="158.13" r="0.8" fill="#20208a"/>
<circle cx="114.68" cy="155.60" r="0.8" fill="#20208a"/>
<circle cx="121.13" cy="157.89" r="0.8" fill="#20208a"/>
<circle cx="113.46" cy="157.02" r="0.8" fill="#20208a"/>
<circle cx="120.74" cy="154.01" r="0.8" fill="#20208a"/>
<circle cx="115.84" cy="156.20" r="0.8" fill="#20208a"/>
<circle cx="112.10" cy="153.28" r="0.8" fill="#20208a"/>
<circle cx="123.05" cy="154.37" r="0.8" fill="#20208a"/>
<circle cx="120.25" cy="155.97" r="0.8" fill="#20208a"/>
<circle cx="121.94" cy="157.09" r="0.8" fill="#20208a"/>
<circle cx="140.40" cy="51.50" r="0.9" fill="#d42422"/>
<circle cx="144.60" cy="50.20" r="0.9" fill="#d42422"/>
<circle cx="139.40" cy="57.90" r="0.9" fill="#d42422"/>
<circle cx="139.40" cy="81.00" r="0.9" fill="#d42422"/>
<circle cx="142.30" cy="82.30" r="0.9" fill="#d42422"/>
<circle cx="136.70" cy="40.99" r="0.9" fill="#d42422"/>
<circle cx="138.31" cy="41.58" r="0.9" fill="#d42422"/>
<circle cx="141.43" cy="36.25" r="0.9" fill="#d42422"/>
<circle cx="133.96" cy="43.89" r="0.9" fill="#d42422"/>
<circle cx="136.96" cy="37.92" r="0.9" fill="#d42422"/>
<circle cx="145.95" cy="40.26" r="0.9" fill="#d42422"/>
<circle cx="144.00" cy="40.32" r="0.9" fill="#d42422"/>
<circle cx="141.60" cy="37.09" r="0.9" fill="#d42422"/>
<circle cx="141.55" cy="44.19" r="0.9" fill="#d42422"/>
<circle cx="140.18" cy="42.94" r="0.9" fill="#d42422"/>
<circle cx="141.99" cy="36.23" r="0.9" fill="#d42422"/>
<circle cx="143.05" cy="41.45" r="0.9" fill="#d42422"/>
<circle cx="137.48" cy="35.91" r="0.9" fill="#d42422"/>
<circle cx="144.36" cy="40.28" r="0.9" fill="#d42422"/>
<circle cx="142.57" cy="44.30" r="0.9" fill="#d42422"/>
<circle cx="142.51" cy="44.72" r="0.9" fill="#d42422"/>
<circle cx="138.62" cy="43.53" r="0.9" fill="#d42422"/>
<circle cx="139.22" cy="44.86" r="0.9" fill="#d42422"/>
<circle cx="144.52" cy="36.56" r="0.9" fill="#d42422"/>
<circle cx="135.46" cy="37.75" r="0.9" fill="#d42422"/>
<circle cx="145.58" cy="39.92" r="0.9" fill="#d42422"/>
<circle cx="141.45" cy="38.58" r="0.9" fill="#d42422"/>
<circle cx="139.99" cy="39.42" r="0.9" fill="#d42422"/>
<circle cx="138.08" cy="41.39" r="0.9" fill="#d42422"/>
<circle cx="140.93" cy="44.55" r="0.9" fill="#d42422"/>
<circle cx="142.12" cy="44.80" r="0.9" fill="#d42422"/>
<circle cx="144.25" cy="45.41" r="0.9" fill="#d42422"/>
<circle cx="141.99" cy="37.21" r="0.9" fill="#d42422"/>
<circle cx="144.30" cy="45.15" r="0.9" fill="#d42422"/>
<circle cx="144.84" cy="41.23" r="0.9" fill="#d42422"/>
<circle cx="142.51" cy="37.69" r="0.9" fill="#d42422"/>
<circle cx="143.95" cy="41.28" r="0.9" fill="#d42422"/>
<circle cx="137.28" cy="36.23" r="0.9" fill="#d42422"/>
<circle cx="144.22" cy="45.40" r="0.9" fill="#d42422"/>
<circle cx="134.88" cy="43.53" r="0.9" fill="#d42422"/>
<circle cx="138.81" cy="37.09" r="0.9" fill="#d42422"/>
<circle cx="137.39" cy="43.21" r="0.9" fill="#d42422"/>
<circle cx="144.45" cy="36.04" r="0.9" fill="#d42422"/>
<circle cx="141.30" cy="36.04" r="0.9" fill="#d42422"/>
<circle cx="142.56" cy="38.88" r="0.9" fill="#d42422"/>
<circle cx="144.55" cy="45.31" r="0.9" fill="#d42422"/>
<circle cx="139.97" cy="45.49" r="0.9" fill="#d42422"/>
<circle cx="137.58" cy="36.36" r="0.9" fill="#d42422"/>
<circle cx="141.12" cy="35.91" r="0.9" fill="#d42422"/>
<circle cx="137.70" cy="102.70" r="0.8" fill="#20208a"/>
<circle cx="134.40" cy="110.80" r="0.8" fill="#20208a"/>
<circle cx="136.30" cy="114.80" r="0.8" fill="#20208a"/>
<circle cx="137.70" cy="114.60" r="0.8" fill="#20208a"/>
<circle cx="136.00" cy="124.80" r="0.8" fill="#20208a"/>
<circle cx="144.80" cy="121.70" r="0.8" fill="#20208a"/>
<circle cx="136.90" cy="126.90" r="0.8" fill="#20208a"/>
<circle cx="141.90" cy="131.30" r="0.8" fill="#20208a"/>
<circle cx="142.50" cy="132.00" r="0.8" fill="#20208a"/>
<circle cx="139.20" cy="135.40" r="0.8" fill="#20208a"/>
<circle cx="143.50" cy="134.60" r="0.8" fill="#20208a"/>
<circle cx="137.30" cy="138.30" r="0.8" fill="#20208a"/>
<circle cx="143.80" cy="139.00" r="0.8" fill="#20208a"/>
<circle cx="140.40" cy="140.40" r="0.8" fill="#20208a"/>
<circle cx="139.00" cy="142.70" r="0.8" fill="#20208a"/>
<circle cx="142.50" cy="145.80" r="0.8" fill="#20208a"/>
<circle cx="135.00" cy="144.00" r="0.8" fill="#20208a"/>
<circle cx="138.00" cy="147.00" r="0.8" fill="#20208a"/>
<circle cx="141.00" cy="148.00" r="0.8" fill="#20208a"/>
<circle cx="144.00" cy="146.00" r="0.8" fill="#20208a"/>
<circle cx="137.34" cy="156.30" r="0.8" fill="#20208a"/>
<circle cx="134.28" cy="157.95" r="0.8" fill="#20208a"/>
<circle cx="142.40" cy="148.77" r="0.8" fill="#20208a"/>
<circle cx="140.28" cy="157.03" r="0.8" fill="#20208a"/>
<circle cx="144.70" cy="155.94" r="0.8" fill="#20208a"/>
<circle cx="145.26" cy="156.59" r="0.8" fill="#20208a"/>
<circle cx="138.56" cy="158.14" r="0.8" fill="#20208a"/>
<circle cx="137.86" cy="158.04" r="0.8" fill="#20208a"/>
<circle cx="140.73" cy="153.83" r="0.8" fill="#20208a"/>
<circle cx="138.44" cy="151.25" r="0.8" fill="#20208a"/>
<circle cx="142.94" cy="151.67" r="0.8" fill="#20208a"/>
<circle cx="136.01" cy="156.53" r="0.8" fill="#20208a"/>
<circle cx="136.24" cy="157.49" r="0.8" fill="#20208a"/>
<circle cx="137.46" cy="155.91" r="0.8" fill="#20208a"/>
<circle cx="141.76" cy="153.16" r="0.8" fill="#20208a"/>
<circle cx="138.32" cy="152.43" r="0.8" fill="#20208a"/>
<circle cx="138.09" cy="154.74" r="0.8" fill="#20208a"/>
<circle cx="135.99" cy="158.25" r="0.8" fill="#20208a"/>
<circle cx="144.59" cy="156.30" r="0.8" fill="#20208a"/>
<circle cx="138.07" cy="156.95" r="0.8" fill="#20208a"/>
<circle cx="138.05" cy="153.46" r="0.8" fill="#20208a"/>
<circle cx="144.40" cy="154.57" r="0.8" fill="#20208a"/>
<circle cx="138.34" cy="156.67" r="0.8" fill="#20208a"/>
<circle cx="137.65" cy="153.74" r="0.8" fill="#20208a"/>
<circle cx="134.52" cy="155.64" r="0.8" fill="#20208a"/>
<circle cx="134.35" cy="157.10" r="0.8" fill="#20208a"/>
<circle cx="134.25" cy="155.24" r="0.8" fill="#20208a"/>
<circle cx="140.19" cy="156.13" r="0.8" fill="#20208a"/>
<circle cx="136.90" cy="154.66" r="0.8" fill="#20208a"/>
<circle cx="135.59" cy="154.87" r="0.8" fill="#20208a"/>
<circle cx="142.15" cy="156.89" r="0.8" fill="#20208a"/>
<circle cx="143.93" cy="156.33" r="0.8" fill="#20208a"/>
<circle cx="137.88" cy="156.82" r="0.8" fill="#20208a"/>
<circle cx="134.16" cy="158.14" r="0.8" fill="#20208a"/>
<circle cx="143.26" cy="155.39" r="0.8" fill="#20208a"/>
<circle cx="141.66" cy="152.05" r="0.8" fill="#20208a"/>
<circle cx="141.87" cy="152.39" r="0.8" fill="#20208a"/>
<circle cx="143.95" cy="153.36" r="0.8" fill="#20208a"/>
<circle cx="134.92" cy="155.05" r="0.8" fill="#20208a"/>
<circle cx="134.58" cy="156.30" r="0.8" fill="#20208a"/>
<circle cx="156.70" cy="38.70" r="0.9" fill="#d42422"/>
<circle cx="159.20" cy="37.70" r="0.9" fill="#d42422"/>
<circle cx="161.50" cy="36.70" r="0.9" fill="#d42422"/>
<circle cx="163.50" cy="37.70" r="0.9" fill="#d42422"/>
<circle cx="166.30" cy="38.70" r="0.9" fill="#d42422"/>
<circle cx="157.70" cy="43.50" r="0.9" fill="#d42422"/>
<circle cx="162.50" cy="44.40" r="0.9" fill="#d42422"/>
<circle cx="162.90" cy="47.30" r="0.9" fill="#d42422"/>
<circle cx="163.50" cy="49.20" r="0.9" fill="#d42422"/>
<circle cx="166.30" cy="52.10" r="0.9" fill="#d42422"/>
<circle cx="158.50" cy="39.50" r="0.9" fill="#d42422"/>
<circle cx="158.80" cy="143.50" r="0.8" fill="#20208a"/>
<circle cx="166.50" cy="143.30" r="0.8" fill="#20208a"/>
<circle cx="161.92" cy="156.64" r="0.8" fill="#20208a"/>
<circle cx="160.82" cy="157.52" r="0.8" fill="#20208a"/>
<circle cx="163.87" cy="157.48" r="0.8" fill="#20208a"/>
<circle cx="160.12" cy="157.86" r="0.8" fill="#20208a"/>
<circle cx="162.91" cy="157.56" r="0.8" fill="#20208a"/>
<circle cx="164.27" cy="155.46" r="0.8" fill="#20208a"/>
<circle cx="160.38" cy="156.31" r="0.8" fill="#20208a"/>
<circle cx="156.78" cy="156.24" r="0.8" fill="#20208a"/>
<circle cx="161.59" cy="155.29" r="0.8" fill="#20208a"/>
<circle cx="156.42" cy="157.03" r="0.8" fill="#20208a"/>
<circle cx="162.71" cy="153.69" r="0.8" fill="#20208a"/>
<circle cx="158.31" cy="154.86" r="0.8" fill="#20208a"/>
<circle cx="167.22" cy="155.14" r="0.8" fill="#20208a"/>
<circle cx="167.08" cy="155.34" r="0.8" fill="#20208a"/>
<circle cx="163.35" cy="155.07" r="0.8" fill="#20208a"/>
<circle cx="159.35" cy="156.18" r="0.8" fill="#20208a"/>
<circle cx="160.58" cy="146.72" r="0.8" fill="#20208a"/>
<circle cx="157.73" cy="153.01" r="0.8" fill="#20208a"/>
<circle cx="160.33" cy="156.74" r="0.8" fill="#20208a"/>
<circle cx="158.38" cy="152.63" r="0.8" fill="#20208a"/>
<circle cx="158.87" cy="154.80" r="0.8" fill="#20208a"/>
<circle cx="160.72" cy="155.51" r="0.8" fill="#20208a"/>
<circle cx="163.69" cy="155.77" r="0.8" fill="#20208a"/>
<circle cx="162.65" cy="155.09" r="0.8" fill="#20208a"/>
<circle cx="160.02" cy="142.63" r="0.8" fill="#20208a"/>
<circle cx="159.78" cy="153.72" r="0.8" fill="#20208a"/>
<circle cx="164.11" cy="154.72" r="0.8" fill="#20208a"/>
<circle cx="158.00" cy="147.86" r="0.8" fill="#20208a"/>
<circle cx="162.69" cy="155.79" r="0.8" fill="#20208a"/>
<circle cx="164.84" cy="156.86" r="0.8" fill="#20208a"/>
<circle cx="159.04" cy="157.11" r="0.8" fill="#20208a"/>
<circle cx="162.11" cy="157.42" r="0.8" fill="#20208a"/>
<circle cx="156.95" cy="158.02" r="0.8" fill="#20208a"/>
<circle cx="157.46" cy="154.67" r="0.8" fill="#20208a"/>
<circle cx="161.73" cy="154.32" r="0.8" fill="#20208a"/>
<circle cx="166.24" cy="153.82" r="0.8" fill="#20208a"/>
<circle cx="162.04" cy="157.02" r="0.8" fill="#20208a"/>
<circle cx="164.46" cy="156.30" r="0.8" fill="#20208a"/>
<circle cx="159.94" cy="154.61" r="0.8" fill="#20208a"/>
<circle cx="165.93" cy="154.38" r="0.8" fill="#20208a"/>
<circle cx="161.03" cy="150.59" r="0.8" fill="#20208a"/>
<circle cx="165.79" cy="155.09" r="0.8" fill="#20208a"/>
<circle cx="160.52" cy="152.72" r="0.8" fill="#20208a"/>
<circle cx="158.29" cy="157.14" r="0.8" fill="#20208a"/>
<circle cx="167.07" cy="155.29" r="0.8" fill="#20208a"/>
<circle cx="164.13" cy="152.69" r="0.8" fill="#20208a"/>
<circle cx="160.75" cy="155.05" r="0.8" fill="#20208a"/>
<circle cx="156.71" cy="141.85" r="0.8" fill="#20208a"/>
<circle cx="156.64" cy="157.73" r="0.8" fill="#20208a"/>
<circle cx="167.68" cy="154.53" r="0.8" fill="#20208a"/>
<circle cx="156.46" cy="156.63" r="0.8" fill="#20208a"/>
<circle cx="160.48" cy="155.83" r="0.8" fill="#20208a"/>
<circle cx="165.88" cy="154.17" r="0.8" fill="#20208a"/>
<circle cx="163.32" cy="156.30" r="0.8" fill="#20208a"/>
<circle cx="160.67" cy="153.22" r="0.8" fill="#20208a"/>
<circle cx="165.43" cy="155.50" r="0.8" fill="#20208a"/>
<circle cx="157.39" cy="157.44" r="0.8" fill="#20208a"/>
<circle cx="161.81" cy="152.25" r="0.8" fill="#20208a"/>
<circle cx="156.37" cy="156.66" r="0.8" fill="#20208a"/>
<circle cx="163.40" cy="157.60" r="0.8" fill="#20208a"/>
<circle cx="161.74" cy="157.16" r="0.8" fill="#20208a"/>
<circle cx="156.74" cy="156.99" r="0.8" fill="#20208a"/>
<circle cx="159.74" cy="153.69" r="0.8" fill="#20208a"/>
<circle cx="161.76" cy="157.40" r="0.8" fill="#20208a"/>
<circle cx="166.21" cy="152.44" r="0.8" fill="#20208a"/>
<circle cx="165.51" cy="156.18" r="0.8" fill="#20208a"/>
<circle cx="162.54" cy="158.05" r="0.8" fill="#20208a"/>
<circle cx="159.36" cy="155.09" r="0.8" fill="#20208a"/>
<circle cx="167.68" cy="147.08" r="0.8" fill="#20208a"/>
<circle cx="164.56" cy="153.99" r="0.8" fill="#20208a"/>
<circle cx="158.11" cy="158.21" r="0.8" fill="#20208a"/>
<circle cx="160.31" cy="157.96" r="0.8" fill="#20208a"/>
<circle cx="162.12" cy="156.73" r="0.8" fill="#20208a"/>
<circle cx="167.28" cy="157.25" r="0.8" fill="#20208a"/>
<circle cx="165.55" cy="155.60" r="0.8" fill="#20208a"/>
<circle cx="160.78" cy="154.51" r="0.8" fill="#20208a"/>
<circle cx="165.06" cy="147.81" r="0.8" fill="#20208a"/>
<circle cx="167.17" cy="152.80" r="0.8" fill="#20208a"/>
<circle cx="159.06" cy="154.67" r="0.8" fill="#20208a"/>
<circle cx="162.84" cy="153.05" r="0.8" fill="#20208a"/>
<circle cx="160.43" cy="156.32" r="0.8" fill="#20208a"/>
<circle cx="160.38" cy="154.11" r="0.8" fill="#20208a"/>
<circle cx="159.39" cy="156.50" r="0.8" fill="#20208a"/>
<circle cx="157.24" cy="151.95" r="0.8" fill="#20208a"/>
<circle cx="158.60" cy="154.47" r="0.8" fill="#20208a"/>
<circle cx="164.04" cy="155.50" r="0.8" fill="#20208a"/>
<circle cx="157.81" cy="157.80" r="0.8" fill="#20208a"/>
<circle cx="156.26" cy="156.10" r="0.8" fill="#20208a"/>
<circle cx="159.88" cy="156.24" r="0.8" fill="#20208a"/>
<circle cx="158.52" cy="153.37" r="0.8" fill="#20208a"/>
<circle cx="164.90" cy="151.95" r="0.8" fill="#20208a"/>
<circle cx="161.14" cy="153.19" r="0.8" fill="#20208a"/>
<circle cx="160.89" cy="152.37" r="0.8" fill="#20208a"/>
<circle cx="159.32" cy="157.42" r="0.8" fill="#20208a"/>
<circle cx="159.89" cy="153.40" r="0.8" fill="#20208a"/>
<circle cx="167.63" cy="156.48" r="0.8" fill="#20208a"/>
<circle cx="160.54" cy="155.03" r="0.8" fill="#20208a"/>
<circle cx="163.30" cy="157.24" r="0.8" fill="#20208a"/>
<circle cx="163.44" cy="147.26" r="0.8" fill="#20208a"/>
<circle cx="179.40" cy="47.70" r="0.8" fill="#20208a"/>
<circle cx="179.40" cy="79.60" r="0.8" fill="#20208a"/>
<circle cx="180.37" cy="39.38" r="0.9" fill="#d42422"/>
<circle cx="185.33" cy="37.42" r="0.9" fill="#d42422"/>
<circle cx="178.51" cy="42.97" r="0.9" fill="#d42422"/>
<circle cx="181.77" cy="43.68" r="0.9" fill="#d42422"/>
<circle cx="188.76" cy="39.15" r="0.9" fill="#d42422"/>
<circle cx="183.52" cy="40.26" r="0.9" fill="#d42422"/>
<circle cx="185.73" cy="40.85" r="0.9" fill="#d42422"/>
<circle cx="184.71" cy="41.04" r="0.9" fill="#d42422"/>
<circle cx="189.29" cy="40.15" r="0.9" fill="#d42422"/>
<circle cx="183.17" cy="41.82" r="0.9" fill="#d42422"/>
<circle cx="180.85" cy="38.55" r="0.9" fill="#d42422"/>
<circle cx="189.73" cy="40.26" r="0.9" fill="#d42422"/>
<circle cx="184.58" cy="36.29" r="0.9" fill="#d42422"/>
<circle cx="182.98" cy="40.72" r="0.9" fill="#d42422"/>
<circle cx="178.24" cy="41.00" r="0.9" fill="#d42422"/>
<circle cx="185.59" cy="36.67" r="0.9" fill="#d42422"/>
<circle cx="185.53" cy="39.84" r="0.9" fill="#d42422"/>
<circle cx="180.60" cy="134.80" r="0.8" fill="#20208a"/>
<circle cx="183.80" cy="139.00" r="0.8" fill="#20208a"/>
<circle cx="189.80" cy="137.50" r="0.8" fill="#20208a"/>
<circle cx="182.00" cy="145.00" r="0.8" fill="#20208a"/>
<circle cx="186.00" cy="146.00" r="0.8" fill="#20208a"/>
<circle cx="187.00" cy="145.50" r="0.8" fill="#20208a"/>
<circle cx="179.74" cy="155.38" r="0.8" fill="#20208a"/>
<circle cx="183.68" cy="149.58" r="0.8" fill="#20208a"/>
<circle cx="182.88" cy="156.16" r="0.8" fill="#20208a"/>
<circle cx="185.06" cy="155.21" r="0.8" fill="#20208a"/>
<circle cx="185.70" cy="158.18" r="0.8" fill="#20208a"/>
<circle cx="185.32" cy="155.25" r="0.8" fill="#20208a"/>
<circle cx="183.86" cy="152.63" r="0.8" fill="#20208a"/>
<circle cx="182.05" cy="149.07" r="0.8" fill="#20208a"/>
<circle cx="183.08" cy="153.18" r="0.8" fill="#20208a"/>
<circle cx="189.90" cy="152.72" r="0.8" fill="#20208a"/>
<circle cx="188.17" cy="157.13" r="0.8" fill="#20208a"/>
<circle cx="188.04" cy="153.45" r="0.8" fill="#20208a"/>
<circle cx="189.95" cy="155.68" r="0.8" fill="#20208a"/>
<circle cx="186.67" cy="153.80" r="0.8" fill="#20208a"/>
<circle cx="183.69" cy="154.13" r="0.8" fill="#20208a"/>
<circle cx="180.69" cy="153.83" r="0.8" fill="#20208a"/>
<circle cx="179.27" cy="154.99" r="0.8" fill="#20208a"/>
<circle cx="184.11" cy="154.24" r="0.8" fill="#20208a"/>
<circle cx="188.34" cy="154.17" r="0.8" fill="#20208a"/>
<circle cx="188.93" cy="155.48" r="0.8" fill="#20208a"/>
<circle cx="182.66" cy="157.56" r="0.8" fill="#20208a"/>
<circle cx="182.43" cy="158.16" r="0.8" fill="#20208a"/>
<circle cx="179.78" cy="147.70" r="0.8" fill="#20208a"/>
<circle cx="188.27" cy="156.32" r="0.8" fill="#20208a"/>
<circle cx="179.25" cy="153.64" r="0.8" fill="#20208a"/>
<circle cx="185.72" cy="152.42" r="0.8" fill="#20208a"/>
<circle cx="180.71" cy="149.19" r="0.8" fill="#20208a"/>
<circle cx="178.60" cy="156.10" r="0.8" fill="#20208a"/>
<circle cx="185.72" cy="156.70" r="0.8" fill="#20208a"/>
<circle cx="186.48" cy="155.20" r="0.8" fill="#20208a"/>
<circle cx="186.47" cy="157.68" r="0.8" fill="#20208a"/>
<circle cx="179.77" cy="157.68" r="0.8" fill="#20208a"/>
<circle cx="182.57" cy="150.28" r="0.8" fill="#20208a"/>
<circle cx="186.44" cy="153.15" r="0.8" fill="#20208a"/>
<circle cx="182.02" cy="156.47" r="0.8" fill="#20208a"/>
<circle cx="185.74" cy="157.59" r="0.8" fill="#20208a"/>
<circle cx="183.16" cy="154.06" r="0.8" fill="#20208a"/>
<circle cx="189.34" cy="155.70" r="0.8" fill="#20208a"/>
<circle cx="181.15" cy="154.67" r="0.8" fill="#20208a"/>
<circle cx="188.54" cy="156.86" r="0.8" fill="#20208a"/>
<circle cx="186.27" cy="153.89" r="0.8" fill="#20208a"/>
<circle cx="182.92" cy="153.47" r="0.8" fill="#20208a"/>
<circle cx="183.62" cy="155.21" r="0.8" fill="#20208a"/>
<circle cx="181.68" cy="156.16" r="0.8" fill="#20208a"/>
<circle cx="181.82" cy="153.36" r="0.8" fill="#20208a"/>
<circle cx="181.26" cy="154.84" r="0.8" fill="#20208a"/>
<circle cx="188.81" cy="157.66" r="0.8" fill="#20208a"/>
<circle cx="182.38" cy="156.15" r="0.8" fill="#20208a"/>
<circle cx="185.27" cy="147.38" r="0.8" fill="#20208a"/>
<circle cx="188.82" cy="157.83" r="0.8" fill="#20208a"/>
<circle cx="182.76" cy="156.45" r="0.8" fill="#20208a"/>
<circle cx="182.41" cy="154.85" r="0.8" fill="#20208a"/>
<circle cx="178.69" cy="144.08" r="0.8" fill="#20208a"/>
<circle cx="182.62" cy="155.90" r="0.8" fill="#20208a"/>
<circle cx="186.20" cy="156.70" r="0.8" fill="#20208a"/>
<circle cx="189.75" cy="153.28" r="0.8" fill="#20208a"/>
<circle cx="188.03" cy="151.60" r="0.8" fill="#20208a"/>
<circle cx="189.99" cy="154.69" r="0.8" fill="#20208a"/>
<circle cx="183.07" cy="155.93" r="0.8" fill="#20208a"/>
<circle cx="189.90" cy="157.21" r="0.8" fill="#20208a"/>
<circle cx="180.08" cy="156.42" r="0.8" fill="#20208a"/>
<circle cx="179.39" cy="154.47" r="0.8" fill="#20208a"/>
<circle cx="185.65" cy="154.96" r="0.8" fill="#20208a"/>
<circle cx="187.83" cy="157.03" r="0.8" fill="#20208a"/>
<circle cx="179.81" cy="154.30" r="0.8" fill="#20208a"/>
<circle cx="188.39" cy="158.27" r="0.8" fill="#20208a"/>
<circle cx="178.70" cy="146.28" r="0.8" fill="#20208a"/>
<circle cx="184.61" cy="155.55" r="0.8" fill="#20208a"/>
<circle cx="181.92" cy="154.23" r="0.8" fill="#20208a"/>
<circle cx="185.01" cy="157.70" r="0.8" fill="#20208a"/>
<circle cx="184.36" cy="157.89" r="0.8" fill="#20208a"/>
<circle cx="181.28" cy="154.29" r="0.8" fill="#20208a"/>
<circle cx="180.94" cy="158.07" r="0.8" fill="#20208a"/>
<circle cx="183.75" cy="155.43" r="0.8" fill="#20208a"/>
<circle cx="188.28" cy="152.79" r="0.8" fill="#20208a"/>
<circle cx="184.51" cy="153.28" r="0.8" fill="#20208a"/>
<circle cx="188.44" cy="155.15" r="0.8" fill="#20208a"/>
<circle cx="178.54" cy="151.51" r="0.8" fill="#20208a"/>
<circle cx="186.94" cy="154.07" r="0.8" fill="#20208a"/>
<circle cx="184.58" cy="157.53" r="0.8" fill="#20208a"/>
<circle cx="181.91" cy="157.77" r="0.8" fill="#20208a"/>
<circle cx="188.25" cy="150.01" r="0.8" fill="#20208a"/>
<circle cx="179.33" cy="156.18" r="0.8" fill="#20208a"/>
<circle cx="189.08" cy="157.77" r="0.8" fill="#20208a"/>
<circle cx="186.01" cy="155.80" r="0.8" fill="#20208a"/>
<circle cx="185.01" cy="144.27" r="0.8" fill="#20208a"/>
<circle cx="183.00" cy="153.63" r="0.8" fill="#20208a"/>
<circle cx="200.80" cy="38.50" r="0.9" fill="#d42422"/>
<circle cx="205.00" cy="37.50" r="0.9" fill="#d42422"/>
<circle cx="207.30" cy="37.00" r="0.9" fill="#d42422"/>
<circle cx="210.00" cy="36.50" r="0.9" fill="#d42422"/>
<circle cx="203.50" cy="42.00" r="0.9" fill="#d42422"/>
<circle cx="205.00" cy="44.00" r="0.9" fill="#d42422"/>
<circle cx="205.40" cy="47.70" r="0.9" fill="#d42422"/>
<circle cx="211.50" cy="42.00" r="0.9" fill="#d42422"/>
<circle cx="201.00" cy="54.80" r="0.9" fill="#d42422"/>
<circle cx="212.00" cy="51.50" r="0.9" fill="#d42422"/>
<circle cx="203.00" cy="73.50" r="0.9" fill="#d42422"/>
<circle cx="207.30" cy="60.00" r="0.8" fill="#20208a"/>
<circle cx="205.20" cy="81.00" r="0.8" fill="#20208a"/>
<circle cx="206.70" cy="88.80" r="0.8" fill="#20208a"/>
<circle cx="208.30" cy="109.80" r="0.9" fill="#d42422"/>
<circle cx="207.00" cy="114.80" r="0.8" fill="#20208a"/>
<circle cx="202.30" cy="117.30" r="0.8" fill="#20208a"/>
<circle cx="209.60" cy="129.40" r="0.8" fill="#20208a"/>
<circle cx="208.00" cy="132.50" r="0.8" fill="#20208a"/>
<circle cx="210.00" cy="133.60" r="0.8" fill="#20208a"/>
<circle cx="208.50" cy="140.00" r="0.8" fill="#20208a"/>
<circle cx="207.70" cy="144.60" r="0.8" fill="#20208a"/>
<circle cx="211.50" cy="146.50" r="0.8" fill="#20208a"/>
<circle cx="210.00" cy="146.00" r="0.8" fill="#20208a"/>
<circle cx="203.69" cy="154.49" r="0.8" fill="#20208a"/>
<circle cx="206.22" cy="156.11" r="0.8" fill="#20208a"/>
<circle cx="205.92" cy="156.10" r="0.8" fill="#20208a"/>
<circle cx="201.41" cy="153.98" r="0.8" fill="#20208a"/>
<circle cx="205.33" cy="155.49" r="0.8" fill="#20208a"/>
<circle cx="205.00" cy="157.83" r="0.8" fill="#20208a"/>
<circle cx="203.36" cy="155.82" r="0.8" fill="#20208a"/>
<circle cx="200.79" cy="155.80" r="0.8" fill="#20208a"/>
<circle cx="200.77" cy="153.30" r="0.8" fill="#20208a"/>
<circle cx="204.93" cy="153.33" r="0.8" fill="#20208a"/>
<circle cx="204.18" cy="156.42" r="0.8" fill="#20208a"/>
<circle cx="204.35" cy="155.27" r="0.8" fill="#20208a"/>
<circle cx="209.43" cy="155.65" r="0.8" fill="#20208a"/>
<circle cx="203.61" cy="157.86" r="0.8" fill="#20208a"/>
<circle cx="205.63" cy="154.19" r="0.8" fill="#20208a"/>
<circle cx="204.00" cy="151.57" r="0.8" fill="#20208a"/>
<circle cx="212.11" cy="157.90" r="0.8" fill="#20208a"/>
<circle cx="204.37" cy="151.92" r="0.8" fill="#20208a"/>
<circle cx="208.14" cy="148.43" r="0.8" fill="#20208a"/>
<circle cx="201.25" cy="154.36" r="0.8" fill="#20208a"/>
<circle cx="211.45" cy="155.47" r="0.8" fill="#20208a"/>
<circle cx="211.53" cy="158.23" r="0.8" fill="#20208a"/>
<circle cx="200.75" cy="155.32" r="0.8" fill="#20208a"/>
<circle cx="208.57" cy="156.16" r="0.8" fill="#20208a"/>
<circle cx="201.56" cy="145.61" r="0.8" fill="#20208a"/>
<circle cx="209.41" cy="156.05" r="0.8" fill="#20208a"/>
<circle cx="205.76" cy="156.01" r="0.8" fill="#20208a"/>
<circle cx="209.21" cy="156.68" r="0.8" fill="#20208a"/>
<circle cx="210.36" cy="157.74" r="0.8" fill="#20208a"/>
<circle cx="202.00" cy="155.49" r="0.8" fill="#20208a"/>
<circle cx="211.75" cy="156.73" r="0.8" fill="#20208a"/>
<circle cx="203.14" cy="153.53" r="0.8" fill="#20208a"/>
<circle cx="210.43" cy="155.55" r="0.8" fill="#20208a"/>
<circle cx="206.17" cy="153.78" r="0.8" fill="#20208a"/>
<circle cx="205.07" cy="156.09" r="0.8" fill="#20208a"/>
<circle cx="206.42" cy="153.50" r="0.8" fill="#20208a"/>
<circle cx="209.72" cy="156.32" r="0.8" fill="#20208a"/>
<circle cx="202.62" cy="154.47" r="0.8" fill="#20208a"/>
<circle cx="204.71" cy="157.29" r="0.8" fill="#20208a"/>
<circle cx="207.55" cy="156.52" r="0.8" fill="#20208a"/>
<circle cx="207.35" cy="156.32" r="0.8" fill="#20208a"/>
<circle cx="207.46" cy="151.78" r="0.8" fill="#20208a"/>
<circle cx="204.50" cy="153.23" r="0.8" fill="#20208a"/>
<circle cx="203.72" cy="157.13" r="0.8" fill="#20208a"/>
<circle cx="203.67" cy="155.35" r="0.8" fill="#20208a"/>
<circle cx="205.07" cy="154.04" r="0.8" fill="#20208a"/>
<circle cx="207.85" cy="156.09" r="0.8" fill="#20208a"/>
<circle cx="211.24" cy="153.25" r="0.8" fill="#20208a"/>
<circle cx="203.37" cy="155.81" r="0.8" fill="#20208a"/>
<circle cx="204.25" cy="157.82" r="0.8" fill="#20208a"/>
<circle cx="208.79" cy="153.02" r="0.8" fill="#20208a"/>
<circle cx="204.55" cy="155.47" r="0.8" fill="#20208a"/>
<circle cx="209.56" cy="153.38" r="0.8" fill="#20208a"/>
<circle cx="209.79" cy="152.81" r="0.8" fill="#20208a"/>
<circle cx="206.90" cy="157.31" r="0.8" fill="#20208a"/>
<circle cx="209.56" cy="157.72" r="0.8" fill="#20208a"/>
<circle cx="211.41" cy="153.65" r="0.8" fill="#20208a"/>
<circle cx="211.72" cy="156.45" r="0.8" fill="#20208a"/>
<circle cx="210.64" cy="156.83" r="0.8" fill="#20208a"/>
<circle cx="203.58" cy="156.97" r="0.8" fill="#20208a"/>
<circle cx="203.63" cy="155.54" r="0.8" fill="#20208a"/>
<circle cx="202.22" cy="157.03" r="0.8" fill="#20208a"/>
<circle cx="204.00" cy="156.93" r="0.8" fill="#20208a"/>
<circle cx="210.83" cy="155.69" r="0.8" fill="#20208a"/>
<circle cx="210.60" cy="153.86" r="0.8" fill="#20208a"/>
<circle cx="209.20" cy="155.51" r="0.8" fill="#20208a"/>
<circle cx="211.35" cy="154.90" r="0.8" fill="#20208a"/>
<circle cx="201.32" cy="156.99" r="0.8" fill="#20208a"/>
<circle cx="209.82" cy="151.76" r="0.8" fill="#20208a"/>
<circle cx="204.99" cy="155.98" r="0.8" fill="#20208a"/>
<circle cx="206.56" cy="153.42" r="0.8" fill="#20208a"/>
<circle cx="203.38" cy="156.53" r="0.8" fill="#20208a"/>
<circle cx="211.60" cy="152.77" r="0.8" fill="#20208a"/>
<circle cx="211.15" cy="157.97" r="0.8" fill="#20208a"/>
<circle cx="202.08" cy="155.40" r="0.8" fill="#20208a"/>
<circle cx="210.81" cy="152.01" r="0.8" fill="#20208a"/>
<circle cx="201.48" cy="154.87" r="0.8" fill="#20208a"/>
<circle cx="212.09" cy="155.37" r="0.8" fill="#20208a"/>
<circle cx="209.79" cy="153.88" r="0.8" fill="#20208a"/>
<circle cx="206.80" cy="157.95" r="0.8" fill="#20208a"/>
<circle cx="204.80" cy="155.60" r="0.8" fill="#20208a"/>
<circle cx="208.87" cy="157.32" r="0.8" fill="#20208a"/>
<circle cx="201.60" cy="155.81" r="0.8" fill="#20208a"/>
<circle cx="211.97" cy="155.44" r="0.8" fill="#20208a"/>
<circle cx="204.17" cy="157.65" r="0.8" fill="#20208a"/>
<line x1="34.50" y1="33.80" x2="34.50" y2="161.00" stroke="#222" stroke-width="1.0"/>
<line x1="34.00" y1="160.60" x2="222.50" y2="160.60" stroke="#222" stroke-width="1.0"/>
<line x1="31.90" y1="160.50" x2="34.50" y2="160.50" stroke="#222" stroke-width="1.0"/>
<text x="27.1" y="162.5" font-size="6.2" text-anchor="middle" fill="#333" transform="rotate(90 27.1 160.3)">0</text>
<line x1="31.90" y1="135.50" x2="34.50" y2="135.50" stroke="#222" stroke-width="1.0"/>
<text x="29.00" y="137.70" font-size="6.2" text-anchor="end" fill="#333" >0.2</text>
<line x1="31.90" y1="110.50" x2="34.50" y2="110.50" stroke="#222" stroke-width="1.0"/>
<text x="29.00" y="112.70" font-size="6.2" text-anchor="end" fill="#333" >0.4</text>
<line x1="31.90" y1="85.50" x2="34.50" y2="85.50" stroke="#222" stroke-width="1.0"/>
<text x="29.00" y="87.70" font-size="6.2" text-anchor="end" fill="#333" >0.6</text>
<line x1="31.90" y1="60.50" x2="34.50" y2="60.50" stroke="#222" stroke-width="1.0"/>
<text x="29.00" y="62.70" font-size="6.2" text-anchor="end" fill="#333" >0.8</text>
<line x1="31.90" y1="35.50" x2="34.50" y2="35.50" stroke="#222" stroke-width="1.0"/>
<text x="29.00" y="37.70" font-size="6.2" text-anchor="end" fill="#333" >1</text>
<line x1="50.50" y1="160.60" x2="50.50" y2="163.20" stroke="#222" stroke-width="1.0"/>
<text x="51.20" y="169.40" font-size="6.1" text-anchor="end" fill="#333" textLength="22.4" lengthAdjust="spacingAndGlyphs" transform="rotate(-45 51.20 169.40)" >BCL11B</text>
<line x1="72.50" y1="160.60" x2="72.50" y2="163.20" stroke="#222" stroke-width="1.0"/>
<text x="73.47" y="169.40" font-size="6.1" text-anchor="end" fill="#333" textLength="37.5" lengthAdjust="spacingAndGlyphs" transform="rotate(-45 73.47 169.40)" >HOXA_KMT2A</text>
<line x1="95.50" y1="160.60" x2="95.50" y2="163.20" stroke="#222" stroke-width="1.0"/>
<text x="95.74" y="169.40" font-size="6.1" text-anchor="end" fill="#333" textLength="39.1" lengthAdjust="spacingAndGlyphs" transform="rotate(-45 95.74 169.40)" >HOXA_MLLT10</text>
<line x1="117.50" y1="160.60" x2="117.50" y2="163.20" stroke="#222" stroke-width="1.0"/>
<text x="118.01" y="169.40" font-size="6.1" text-anchor="end" fill="#333" textLength="15.1" lengthAdjust="spacingAndGlyphs" transform="rotate(-45 118.01 169.40)" >NKX2</text>
<line x1="139.50" y1="160.60" x2="139.50" y2="163.20" stroke="#222" stroke-width="1.0"/>
<text x="140.28" y="169.40" font-size="6.1" text-anchor="end" fill="#333" textLength="24.0" lengthAdjust="spacingAndGlyphs" transform="rotate(-45 140.28 169.40)" >TAL/LMO</text>
<line x1="161.50" y1="160.60" x2="161.50" y2="163.20" stroke="#222" stroke-width="1.0"/>
<text x="162.55" y="169.40" font-size="6.1" text-anchor="end" fill="#333" textLength="12.6" lengthAdjust="spacingAndGlyphs" transform="rotate(-45 162.55 169.40)" >TLX1</text>
<line x1="184.50" y1="160.60" x2="184.50" y2="163.20" stroke="#222" stroke-width="1.0"/>
<text x="184.82" y="169.40" font-size="6.1" text-anchor="end" fill="#333" textLength="12.6" lengthAdjust="spacingAndGlyphs" transform="rotate(-45 184.82 169.40)" >TLX3</text>
<line x1="206.50" y1="160.60" x2="206.50" y2="163.20" stroke="#222" stroke-width="1.0"/>
<text x="207.09" y="169.40" font-size="6.1" text-anchor="end" fill="#333" textLength="18.6" lengthAdjust="spacingAndGlyphs" transform="rotate(-45 207.09 169.40)" >Diverse</text>
<text x="128.50" y="210.60" font-size="8.2" text-anchor="middle" fill="#2b2b2b" textLength="22.6" lengthAdjust="spacingAndGlyphs" stroke="#2b2b2b" stroke-width="0.22">Classifier</text>
<text x="14.90" y="96.80" font-size="6.8" text-anchor="middle" fill="#2b2b2b" textLength="26.0" lengthAdjust="spacingAndGlyphs" transform="rotate(-90 14.90 96.80)" stroke="#2b2b2b" stroke-width="0.22">Probability</text>
<text x="389.40" y="15.30" font-size="7.8" text-anchor="middle" fill="#2b2b2b" textLength="122.8" lengthAdjust="spacingAndGlyphs" >Sample-wise classifier probabilities:</text>
<text x="389.40" y="25.00" font-size="7.8" text-anchor="middle" fill="#2b2b2b" textLength="113.9" lengthAdjust="spacingAndGlyphs" >Independent group (66 samples)</text>
<text x="479.40" y="38.60" font-size="5.65" text-anchor="start" fill="#e2604e" >True positive</text>
<text x="479.40" y="47.60" font-size="5.65" text-anchor="start" fill="#2e2e88" >True negative</text>
<line x1="303.40" y1="98.50" x2="321.00" y2="98.50" stroke="#2a2a2a" stroke-width="1.0"/>
<line x1="325.44" y1="98.50" x2="343.04" y2="98.50" stroke="#2a2a2a" stroke-width="1.0"/>
<line x1="347.48" y1="98.50" x2="365.08" y2="98.50" stroke="#2a2a2a" stroke-width="1.0"/>
<line x1="369.52" y1="98.50" x2="387.12" y2="98.50" stroke="#2a2a2a" stroke-width="1.0"/>
<line x1="391.56" y1="98.50" x2="409.16" y2="98.50" stroke="#2a2a2a" stroke-width="1.0"/>
<line x1="413.60" y1="98.50" x2="431.20" y2="98.50" stroke="#2a2a2a" stroke-width="1.0"/>
<line x1="435.64" y1="98.50" x2="453.24" y2="98.50" stroke="#2a2a2a" stroke-width="1.0"/>
<line x1="457.68" y1="98.50" x2="475.28" y2="98.50" stroke="#2a2a2a" stroke-width="1.0"/>
<circle cx="311.20" cy="40.40" r="0.9" fill="#d42422"/>
<circle cx="307.40" cy="117.50" r="0.8" fill="#20208a"/>
<circle cx="314.00" cy="139.80" r="0.8" fill="#20208a"/>
<circle cx="306.50" cy="145.50" r="0.8" fill="#20208a"/>
<circle cx="309.30" cy="145.50" r="0.8" fill="#20208a"/>
<circle cx="312.50" cy="145.50" r="0.8" fill="#20208a"/>
<circle cx="316.30" cy="145.50" r="0.8" fill="#20208a"/>
<circle cx="314.13" cy="153.67" r="0.8" fill="#20208a"/>
<circle cx="310.75" cy="158.27" r="0.8" fill="#20208a"/>
<circle cx="314.41" cy="152.58" r="0.8" fill="#20208a"/>
<circle cx="314.07" cy="154.37" r="0.8" fill="#20208a"/>
<circle cx="308.28" cy="155.21" r="0.8" fill="#20208a"/>
<circle cx="315.90" cy="150.97" r="0.8" fill="#20208a"/>
<circle cx="310.31" cy="153.46" r="0.8" fill="#20208a"/>
<circle cx="306.62" cy="152.35" r="0.8" fill="#20208a"/>
<circle cx="312.30" cy="151.83" r="0.8" fill="#20208a"/>
<circle cx="317.38" cy="151.32" r="0.8" fill="#20208a"/>
<circle cx="307.97" cy="155.33" r="0.8" fill="#20208a"/>
<circle cx="308.30" cy="153.92" r="0.8" fill="#20208a"/>
<circle cx="308.39" cy="157.98" r="0.8" fill="#20208a"/>
<circle cx="311.26" cy="149.11" r="0.8" fill="#20208a"/>
<circle cx="310.86" cy="154.95" r="0.8" fill="#20208a"/>
<circle cx="317.62" cy="153.17" r="0.8" fill="#20208a"/>
<circle cx="310.53" cy="146.73" r="0.8" fill="#20208a"/>
<circle cx="314.22" cy="153.43" r="0.8" fill="#20208a"/>
<circle cx="310.61" cy="156.68" r="0.8" fill="#20208a"/>
<circle cx="312.20" cy="152.58" r="0.8" fill="#20208a"/>
<circle cx="311.39" cy="152.49" r="0.8" fill="#20208a"/>
<circle cx="311.36" cy="156.77" r="0.8" fill="#20208a"/>
<circle cx="307.59" cy="152.85" r="0.8" fill="#20208a"/>
<circle cx="314.47" cy="157.08" r="0.8" fill="#20208a"/>
<circle cx="310.39" cy="156.38" r="0.8" fill="#20208a"/>
<circle cx="311.73" cy="157.98" r="0.8" fill="#20208a"/>
<circle cx="311.92" cy="156.34" r="0.8" fill="#20208a"/>
<circle cx="317.49" cy="148.52" r="0.8" fill="#20208a"/>
<circle cx="310.62" cy="151.76" r="0.8" fill="#20208a"/>
<circle cx="316.98" cy="153.02" r="0.8" fill="#20208a"/>
<circle cx="315.34" cy="156.44" r="0.8" fill="#20208a"/>
<circle cx="306.50" cy="156.63" r="0.8" fill="#20208a"/>
<circle cx="317.81" cy="153.94" r="0.8" fill="#20208a"/>
<circle cx="306.68" cy="148.34" r="0.8" fill="#20208a"/>
<circle cx="316.05" cy="152.74" r="0.8" fill="#20208a"/>
<circle cx="312.52" cy="156.71" r="0.8" fill="#20208a"/>
<circle cx="309.45" cy="153.88" r="0.8" fill="#20208a"/>
<circle cx="308.28" cy="141.95" r="0.8" fill="#20208a"/>
<circle cx="309.63" cy="152.13" r="0.8" fill="#20208a"/>
<circle cx="314.47" cy="148.24" r="0.8" fill="#20208a"/>
<circle cx="309.71" cy="156.82" r="0.8" fill="#20208a"/>
<circle cx="314.45" cy="153.48" r="0.8" fill="#20208a"/>
<circle cx="311.28" cy="152.03" r="0.8" fill="#20208a"/>
<circle cx="317.76" cy="155.25" r="0.8" fill="#20208a"/>
<circle cx="317.07" cy="153.90" r="0.8" fill="#20208a"/>
<circle cx="311.24" cy="145.33" r="0.8" fill="#20208a"/>
<circle cx="315.56" cy="151.93" r="0.8" fill="#20208a"/>
<circle cx="310.67" cy="155.87" r="0.8" fill="#20208a"/>
<circle cx="306.60" cy="154.34" r="0.8" fill="#20208a"/>
<circle cx="315.65" cy="151.91" r="0.8" fill="#20208a"/>
<circle cx="312.61" cy="141.85" r="0.8" fill="#20208a"/>
<circle cx="307.54" cy="155.65" r="0.8" fill="#20208a"/>
<circle cx="317.23" cy="156.13" r="0.8" fill="#20208a"/>
<circle cx="313.62" cy="154.49" r="0.8" fill="#20208a"/>
<circle cx="314.53" cy="154.54" r="0.8" fill="#20208a"/>
<circle cx="311.12" cy="156.60" r="0.8" fill="#20208a"/>
<circle cx="308.04" cy="153.47" r="0.8" fill="#20208a"/>
<circle cx="314.47" cy="156.12" r="0.8" fill="#20208a"/>
<circle cx="317.24" cy="153.65" r="0.8" fill="#20208a"/>
<circle cx="338.20" cy="45.20" r="0.9" fill="#d42422"/>
<circle cx="338.90" cy="62.40" r="0.9" fill="#d42422"/>
<circle cx="330.60" cy="120.10" r="0.8" fill="#20208a"/>
<circle cx="333.70" cy="117.50" r="0.8" fill="#20208a"/>
<circle cx="335.00" cy="136.70" r="0.8" fill="#20208a"/>
<circle cx="336.50" cy="139.30" r="0.8" fill="#20208a"/>
<circle cx="329.00" cy="146.00" r="0.8" fill="#20208a"/>
<circle cx="332.50" cy="146.00" r="0.8" fill="#20208a"/>
<circle cx="335.50" cy="146.00" r="0.8" fill="#20208a"/>
<circle cx="338.80" cy="146.00" r="0.8" fill="#20208a"/>
<circle cx="334.10" cy="158.14" r="0.8" fill="#20208a"/>
<circle cx="336.18" cy="157.07" r="0.8" fill="#20208a"/>
<circle cx="332.24" cy="156.65" r="0.8" fill="#20208a"/>
<circle cx="332.62" cy="151.19" r="0.8" fill="#20208a"/>
<circle cx="333.46" cy="156.92" r="0.8" fill="#20208a"/>
<circle cx="334.25" cy="151.80" r="0.8" fill="#20208a"/>
<circle cx="333.83" cy="157.19" r="0.8" fill="#20208a"/>
<circle cx="331.34" cy="152.34" r="0.8" fill="#20208a"/>
<circle cx="338.09" cy="152.26" r="0.8" fill="#20208a"/>
<circle cx="337.27" cy="154.52" r="0.8" fill="#20208a"/>
<circle cx="336.13" cy="153.55" r="0.8" fill="#20208a"/>
<circle cx="336.34" cy="147.90" r="0.8" fill="#20208a"/>
<circle cx="332.18" cy="153.13" r="0.8" fill="#20208a"/>
<circle cx="332.00" cy="155.78" r="0.8" fill="#20208a"/>
<circle cx="334.75" cy="156.74" r="0.8" fill="#20208a"/>
<circle cx="337.76" cy="158.02" r="0.8" fill="#20208a"/>
<circle cx="335.39" cy="151.68" r="0.8" fill="#20208a"/>
<circle cx="338.85" cy="152.13" r="0.8" fill="#20208a"/>
<circle cx="335.87" cy="157.45" r="0.8" fill="#20208a"/>
<circle cx="337.54" cy="147.36" r="0.8" fill="#20208a"/>
<circle cx="331.49" cy="153.95" r="0.8" fill="#20208a"/>
<circle cx="332.90" cy="155.64" r="0.8" fill="#20208a"/>
<circle cx="330.41" cy="152.60" r="0.8" fill="#20208a"/>
<circle cx="339.70" cy="156.54" r="0.8" fill="#20208a"/>
<circle cx="338.13" cy="157.97" r="0.8" fill="#20208a"/>
<circle cx="332.60" cy="144.13" r="0.8" fill="#20208a"/>
<circle cx="330.03" cy="156.17" r="0.8" fill="#20208a"/>
<circle cx="330.89" cy="143.84" r="0.8" fill="#20208a"/>
<circle cx="332.02" cy="151.12" r="0.8" fill="#20208a"/>
<circle cx="330.33" cy="157.13" r="0.8" fill="#20208a"/>
<circle cx="330.64" cy="156.24" r="0.8" fill="#20208a"/>
<circle cx="338.44" cy="156.13" r="0.8" fill="#20208a"/>
<circle cx="336.39" cy="157.62" r="0.8" fill="#20208a"/>
<circle cx="334.56" cy="155.15" r="0.8" fill="#20208a"/>
<circle cx="334.30" cy="152.64" r="0.8" fill="#20208a"/>
<circle cx="335.80" cy="155.02" r="0.8" fill="#20208a"/>
<circle cx="334.43" cy="155.39" r="0.8" fill="#20208a"/>
<circle cx="339.17" cy="156.37" r="0.8" fill="#20208a"/>
<circle cx="336.45" cy="152.25" r="0.8" fill="#20208a"/>
<circle cx="333.39" cy="146.49" r="0.8" fill="#20208a"/>
<circle cx="337.18" cy="154.02" r="0.8" fill="#20208a"/>
<circle cx="329.16" cy="150.65" r="0.8" fill="#20208a"/>
<circle cx="329.09" cy="157.75" r="0.8" fill="#20208a"/>
<circle cx="329.75" cy="156.57" r="0.8" fill="#20208a"/>
<circle cx="339.64" cy="153.96" r="0.8" fill="#20208a"/>
<circle cx="339.46" cy="145.56" r="0.8" fill="#20208a"/>
<circle cx="339.18" cy="156.73" r="0.8" fill="#20208a"/>
<circle cx="337.22" cy="156.88" r="0.8" fill="#20208a"/>
<circle cx="332.10" cy="154.48" r="0.8" fill="#20208a"/>
<circle cx="335.48" cy="157.73" r="0.8" fill="#20208a"/>
<circle cx="337.32" cy="141.85" r="0.8" fill="#20208a"/>
<circle cx="331.90" cy="149.37" r="0.8" fill="#20208a"/>
<circle cx="336.20" cy="147.44" r="0.8" fill="#20208a"/>
<circle cx="334.04" cy="156.72" r="0.8" fill="#20208a"/>
<circle cx="337.22" cy="152.47" r="0.8" fill="#20208a"/>
<circle cx="338.44" cy="155.63" r="0.8" fill="#20208a"/>
<circle cx="355.00" cy="102.10" r="0.9" fill="#d42422"/>
<circle cx="357.00" cy="104.70" r="0.9" fill="#d42422"/>
<circle cx="352.00" cy="121.00" r="0.8" fill="#20208a"/>
<circle cx="356.50" cy="118.50" r="0.8" fill="#20208a"/>
<circle cx="358.00" cy="119.50" r="0.8" fill="#20208a"/>
<circle cx="358.00" cy="132.70" r="0.8" fill="#20208a"/>
<circle cx="354.00" cy="136.70" r="0.8" fill="#20208a"/>
<circle cx="356.00" cy="141.00" r="0.8" fill="#20208a"/>
<circle cx="352.74" cy="148.49" r="0.8" fill="#20208a"/>
<circle cx="354.68" cy="154.53" r="0.8" fill="#20208a"/>
<circle cx="357.58" cy="155.60" r="0.8" fill="#20208a"/>
<circle cx="361.53" cy="154.50" r="0.8" fill="#20208a"/>
<circle cx="355.33" cy="156.55" r="0.8" fill="#20208a"/>
<circle cx="357.81" cy="153.10" r="0.8" fill="#20208a"/>
<circle cx="357.39" cy="154.45" r="0.8" fill="#20208a"/>
<circle cx="354.07" cy="155.65" r="0.8" fill="#20208a"/>
<circle cx="354.31" cy="151.24" r="0.8" fill="#20208a"/>
<circle cx="352.49" cy="155.07" r="0.8" fill="#20208a"/>
<circle cx="354.22" cy="156.89" r="0.8" fill="#20208a"/>
<circle cx="361.36" cy="155.86" r="0.8" fill="#20208a"/>
<circle cx="358.11" cy="155.98" r="0.8" fill="#20208a"/>
<circle cx="357.99" cy="154.68" r="0.8" fill="#20208a"/>
<circle cx="351.65" cy="153.57" r="0.8" fill="#20208a"/>
<circle cx="361.96" cy="152.58" r="0.8" fill="#20208a"/>
<circle cx="355.56" cy="157.13" r="0.8" fill="#20208a"/>
<circle cx="353.19" cy="152.36" r="0.8" fill="#20208a"/>
<circle cx="357.87" cy="153.80" r="0.8" fill="#20208a"/>
<circle cx="361.61" cy="154.94" r="0.8" fill="#20208a"/>
<circle cx="355.02" cy="151.67" r="0.8" fill="#20208a"/>
<circle cx="358.78" cy="155.79" r="0.8" fill="#20208a"/>
<circle cx="356.58" cy="156.65" r="0.8" fill="#20208a"/>
<circle cx="358.16" cy="154.78" r="0.8" fill="#20208a"/>
<circle cx="354.60" cy="153.26" r="0.8" fill="#20208a"/>
<circle cx="360.81" cy="158.17" r="0.8" fill="#20208a"/>
<circle cx="361.70" cy="155.57" r="0.8" fill="#20208a"/>
<circle cx="360.19" cy="150.55" r="0.8" fill="#20208a"/>
<circle cx="353.49" cy="156.11" r="0.8" fill="#20208a"/>
<circle cx="351.07" cy="157.98" r="0.8" fill="#20208a"/>
<circle cx="352.32" cy="156.16" r="0.8" fill="#20208a"/>
<circle cx="354.88" cy="152.42" r="0.8" fill="#20208a"/>
<circle cx="361.30" cy="154.07" r="0.8" fill="#20208a"/>
<circle cx="360.46" cy="156.72" r="0.8" fill="#20208a"/>
<circle cx="356.61" cy="141.85" r="0.8" fill="#20208a"/>
<circle cx="361.04" cy="157.01" r="0.8" fill="#20208a"/>
<circle cx="359.66" cy="154.42" r="0.8" fill="#20208a"/>
<circle cx="361.00" cy="154.55" r="0.8" fill="#20208a"/>
<circle cx="352.63" cy="153.95" r="0.8" fill="#20208a"/>
<circle cx="357.95" cy="143.68" r="0.8" fill="#20208a"/>
<circle cx="356.21" cy="158.20" r="0.8" fill="#20208a"/>
<circle cx="351.38" cy="155.50" r="0.8" fill="#20208a"/>
<circle cx="357.00" cy="148.18" r="0.8" fill="#20208a"/>
<circle cx="356.86" cy="141.88" r="0.8" fill="#20208a"/>
<circle cx="354.80" cy="152.31" r="0.8" fill="#20208a"/>
<circle cx="359.72" cy="151.12" r="0.8" fill="#20208a"/>
<circle cx="361.97" cy="153.92" r="0.8" fill="#20208a"/>
<circle cx="359.76" cy="155.45" r="0.8" fill="#20208a"/>
<circle cx="359.49" cy="154.61" r="0.8" fill="#20208a"/>
<circle cx="358.02" cy="152.16" r="0.8" fill="#20208a"/>
<circle cx="351.43" cy="156.31" r="0.8" fill="#20208a"/>
<circle cx="361.80" cy="158.05" r="0.8" fill="#20208a"/>
<circle cx="352.04" cy="154.05" r="0.8" fill="#20208a"/>
<circle cx="352.53" cy="148.09" r="0.8" fill="#20208a"/>
<circle cx="361.82" cy="143.11" r="0.8" fill="#20208a"/>
<circle cx="358.15" cy="155.48" r="0.8" fill="#20208a"/>
<circle cx="358.61" cy="154.29" r="0.8" fill="#20208a"/>
<circle cx="372.80" cy="36.90" r="0.9" fill="#d42422"/>
<circle cx="372.80" cy="61.70" r="0.9" fill="#d42422"/>
<circle cx="381.80" cy="39.50" r="0.9" fill="#d42422"/>
<circle cx="383.20" cy="37.30" r="0.9" fill="#d42422"/>
<circle cx="382.50" cy="38.50" r="0.9" fill="#d42422"/>
<circle cx="377.50" cy="107.30" r="0.8" fill="#20208a"/>
<circle cx="375.00" cy="127.70" r="0.8" fill="#20208a"/>
<circle cx="373.50" cy="142.50" r="0.8" fill="#20208a"/>
<circle cx="382.00" cy="141.00" r="0.8" fill="#20208a"/>
<circle cx="381.23" cy="152.48" r="0.8" fill="#20208a"/>
<circle cx="377.55" cy="152.97" r="0.8" fill="#20208a"/>
<circle cx="379.74" cy="158.20" r="0.8" fill="#20208a"/>
<circle cx="378.20" cy="157.68" r="0.8" fill="#20208a"/>
<circle cx="379.09" cy="156.03" r="0.8" fill="#20208a"/>
<circle cx="383.97" cy="154.58" r="0.8" fill="#20208a"/>
<circle cx="382.64" cy="149.76" r="0.8" fill="#20208a"/>
<circle cx="373.19" cy="151.67" r="0.8" fill="#20208a"/>
<circle cx="380.19" cy="151.71" r="0.8" fill="#20208a"/>
<circle cx="373.93" cy="156.89" r="0.8" fill="#20208a"/>
<circle cx="374.55" cy="150.94" r="0.8" fill="#20208a"/>
<circle cx="380.40" cy="152.51" r="0.8" fill="#20208a"/>
<circle cx="377.59" cy="144.99" r="0.8" fill="#20208a"/>
<circle cx="373.12" cy="149.65" r="0.8" fill="#20208a"/>
<circle cx="380.18" cy="142.44" r="0.8" fill="#20208a"/>
<circle cx="375.06" cy="156.90" r="0.8" fill="#20208a"/>
<circle cx="378.08" cy="157.68" r="0.8" fill="#20208a"/>
<circle cx="378.49" cy="141.85" r="0.8" fill="#20208a"/>
<circle cx="381.52" cy="155.02" r="0.8" fill="#20208a"/>
<circle cx="382.33" cy="151.33" r="0.8" fill="#20208a"/>
<circle cx="374.48" cy="154.14" r="0.8" fill="#20208a"/>
<circle cx="374.31" cy="155.16" r="0.8" fill="#20208a"/>
<circle cx="374.56" cy="155.42" r="0.8" fill="#20208a"/>
<circle cx="383.98" cy="156.01" r="0.8" fill="#20208a"/>
<circle cx="377.55" cy="154.67" r="0.8" fill="#20208a"/>
<circle cx="383.69" cy="156.92" r="0.8" fill="#20208a"/>
<circle cx="380.06" cy="146.89" r="0.8" fill="#20208a"/>
<circle cx="374.46" cy="154.49" r="0.8" fill="#20208a"/>
<circle cx="374.49" cy="154.17" r="0.8" fill="#20208a"/>
<circle cx="378.14" cy="153.15" r="0.8" fill="#20208a"/>
<circle cx="373.55" cy="150.51" r="0.8" fill="#20208a"/>
<circle cx="380.56" cy="147.35" r="0.8" fill="#20208a"/>
<circle cx="383.86" cy="157.29" r="0.8" fill="#20208a"/>
<circle cx="374.22" cy="151.87" r="0.8" fill="#20208a"/>
<circle cx="375.39" cy="154.44" r="0.8" fill="#20208a"/>
<circle cx="373.44" cy="149.98" r="0.8" fill="#20208a"/>
<circle cx="383.51" cy="156.41" r="0.8" fill="#20208a"/>
<circle cx="377.47" cy="146.66" r="0.8" fill="#20208a"/>
<circle cx="373.98" cy="152.43" r="0.8" fill="#20208a"/>
<circle cx="382.52" cy="155.25" r="0.8" fill="#20208a"/>
<circle cx="383.04" cy="157.90" r="0.8" fill="#20208a"/>
<circle cx="374.15" cy="153.12" r="0.8" fill="#20208a"/>
<circle cx="377.61" cy="156.87" r="0.8" fill="#20208a"/>
<circle cx="378.74" cy="143.67" r="0.8" fill="#20208a"/>
<circle cx="375.95" cy="157.10" r="0.8" fill="#20208a"/>
<circle cx="372.82" cy="151.82" r="0.8" fill="#20208a"/>
<circle cx="374.27" cy="151.51" r="0.8" fill="#20208a"/>
<circle cx="382.83" cy="156.46" r="0.8" fill="#20208a"/>
<circle cx="373.90" cy="153.21" r="0.8" fill="#20208a"/>
<circle cx="379.42" cy="157.15" r="0.8" fill="#20208a"/>
<circle cx="377.58" cy="152.09" r="0.8" fill="#20208a"/>
<circle cx="383.53" cy="149.07" r="0.8" fill="#20208a"/>
<circle cx="373.75" cy="141.85" r="0.8" fill="#20208a"/>
<circle cx="382.79" cy="153.39" r="0.8" fill="#20208a"/>
<circle cx="378.05" cy="152.88" r="0.8" fill="#20208a"/>
<circle cx="372.60" cy="157.74" r="0.8" fill="#20208a"/>
<circle cx="380.40" cy="151.70" r="0.8" fill="#20208a"/>
<circle cx="399.00" cy="49.20" r="0.9" fill="#d42422"/>
<circle cx="401.00" cy="47.30" r="0.9" fill="#d42422"/>
<circle cx="396.00" cy="44.80" r="0.8" fill="#20208a"/>
<circle cx="396.60" cy="62.50" r="0.8" fill="#20208a"/>
<circle cx="400.20" cy="61.50" r="0.8" fill="#20208a"/>
<circle cx="403.70" cy="78.00" r="0.8" fill="#20208a"/>
<circle cx="399.00" cy="87.00" r="0.8" fill="#20208a"/>
<circle cx="402.47" cy="38.13" r="0.9" fill="#d42422"/>
<circle cx="402.78" cy="40.14" r="0.9" fill="#d42422"/>
<circle cx="395.24" cy="36.61" r="0.9" fill="#d42422"/>
<circle cx="402.44" cy="41.31" r="0.9" fill="#d42422"/>
<circle cx="397.76" cy="38.67" r="0.9" fill="#d42422"/>
<circle cx="401.52" cy="37.96" r="0.9" fill="#d42422"/>
<circle cx="399.00" cy="37.93" r="0.9" fill="#d42422"/>
<circle cx="399.06" cy="39.40" r="0.9" fill="#d42422"/>
<circle cx="398.30" cy="38.26" r="0.9" fill="#d42422"/>
<circle cx="403.50" cy="36.44" r="0.9" fill="#d42422"/>
<circle cx="401.26" cy="40.12" r="0.9" fill="#d42422"/>
<circle cx="398.41" cy="37.46" r="0.9" fill="#d42422"/>
<circle cx="403.84" cy="37.54" r="0.9" fill="#d42422"/>
<circle cx="397.06" cy="38.56" r="0.9" fill="#d42422"/>
<circle cx="402.68" cy="36.83" r="0.9" fill="#d42422"/>
<circle cx="398.54" cy="38.04" r="0.9" fill="#d42422"/>
<circle cx="404.17" cy="38.58" r="0.9" fill="#d42422"/>
<circle cx="404.41" cy="37.18" r="0.9" fill="#d42422"/>
<circle cx="398.70" cy="39.68" r="0.9" fill="#d42422"/>
<circle cx="404.73" cy="38.65" r="0.9" fill="#d42422"/>
<circle cx="397.48" cy="36.93" r="0.9" fill="#d42422"/>
<circle cx="400.83" cy="37.29" r="0.9" fill="#d42422"/>
<circle cx="403.87" cy="40.66" r="0.9" fill="#d42422"/>
<circle cx="397.02" cy="37.75" r="0.9" fill="#d42422"/>
<circle cx="403.88" cy="39.64" r="0.9" fill="#d42422"/>
<circle cx="403.87" cy="38.10" r="0.9" fill="#d42422"/>
<circle cx="395.00" cy="100.80" r="0.8" fill="#20208a"/>
<circle cx="400.00" cy="102.00" r="0.8" fill="#20208a"/>
<circle cx="397.40" cy="109.60" r="0.8" fill="#20208a"/>
<circle cx="396.00" cy="114.00" r="0.8" fill="#20208a"/>
<circle cx="397.00" cy="117.00" r="0.8" fill="#20208a"/>
<circle cx="403.80" cy="119.40" r="0.8" fill="#20208a"/>
<circle cx="395.50" cy="124.00" r="0.8" fill="#20208a"/>
<circle cx="397.00" cy="126.00" r="0.8" fill="#20208a"/>
<circle cx="404.50" cy="126.50" r="0.8" fill="#20208a"/>
<circle cx="405.00" cy="137.00" r="0.8" fill="#20208a"/>
<circle cx="399.00" cy="141.00" r="0.8" fill="#20208a"/>
<circle cx="401.00" cy="142.50" r="0.8" fill="#20208a"/>
<circle cx="402.50" cy="142.50" r="0.8" fill="#20208a"/>
<circle cx="396.00" cy="147.00" r="0.8" fill="#20208a"/>
<circle cx="398.00" cy="148.00" r="0.8" fill="#20208a"/>
<circle cx="399.12" cy="141.85" r="0.8" fill="#20208a"/>
<circle cx="402.59" cy="153.69" r="0.8" fill="#20208a"/>
<circle cx="396.38" cy="152.02" r="0.8" fill="#20208a"/>
<circle cx="403.20" cy="153.45" r="0.8" fill="#20208a"/>
<circle cx="398.02" cy="149.68" r="0.8" fill="#20208a"/>
<circle cx="404.69" cy="158.01" r="0.8" fill="#20208a"/>
<circle cx="398.19" cy="155.55" r="0.8" fill="#20208a"/>
<circle cx="396.13" cy="157.11" r="0.8" fill="#20208a"/>
<circle cx="401.79" cy="157.42" r="0.8" fill="#20208a"/>
<circle cx="399.92" cy="151.20" r="0.8" fill="#20208a"/>
<circle cx="398.55" cy="156.14" r="0.8" fill="#20208a"/>
<circle cx="397.65" cy="155.33" r="0.8" fill="#20208a"/>
<circle cx="405.32" cy="157.39" r="0.8" fill="#20208a"/>
<circle cx="404.00" cy="151.35" r="0.8" fill="#20208a"/>
<circle cx="395.82" cy="156.73" r="0.8" fill="#20208a"/>
<circle cx="420.00" cy="45.20" r="0.9" fill="#d42422"/>
<circle cx="425.70" cy="45.80" r="0.9" fill="#d42422"/>
<circle cx="424.99" cy="152.01" r="0.8" fill="#20208a"/>
<circle cx="422.81" cy="155.34" r="0.8" fill="#20208a"/>
<circle cx="427.82" cy="157.55" r="0.8" fill="#20208a"/>
<circle cx="417.54" cy="158.00" r="0.8" fill="#20208a"/>
<circle cx="422.14" cy="157.01" r="0.8" fill="#20208a"/>
<circle cx="422.37" cy="157.67" r="0.8" fill="#20208a"/>
<circle cx="418.35" cy="157.64" r="0.8" fill="#20208a"/>
<circle cx="417.32" cy="157.92" r="0.8" fill="#20208a"/>
<circle cx="425.12" cy="158.16" r="0.8" fill="#20208a"/>
<circle cx="427.64" cy="155.67" r="0.8" fill="#20208a"/>
<circle cx="421.41" cy="156.75" r="0.8" fill="#20208a"/>
<circle cx="417.07" cy="155.08" r="0.8" fill="#20208a"/>
<circle cx="428.02" cy="152.07" r="0.8" fill="#20208a"/>
<circle cx="427.78" cy="154.95" r="0.8" fill="#20208a"/>
<circle cx="424.12" cy="156.15" r="0.8" fill="#20208a"/>
<circle cx="423.31" cy="155.11" r="0.8" fill="#20208a"/>
<circle cx="423.89" cy="156.81" r="0.8" fill="#20208a"/>
<circle cx="425.57" cy="154.78" r="0.8" fill="#20208a"/>
<circle cx="419.31" cy="155.61" r="0.8" fill="#20208a"/>
<circle cx="425.03" cy="156.35" r="0.8" fill="#20208a"/>
<circle cx="418.72" cy="157.79" r="0.8" fill="#20208a"/>
<circle cx="423.09" cy="157.70" r="0.8" fill="#20208a"/>
<circle cx="419.19" cy="153.32" r="0.8" fill="#20208a"/>
<circle cx="421.67" cy="156.79" r="0.8" fill="#20208a"/>
<circle cx="420.60" cy="155.76" r="0.8" fill="#20208a"/>
<circle cx="424.51" cy="153.04" r="0.8" fill="#20208a"/>
<circle cx="416.85" cy="145.46" r="0.8" fill="#20208a"/>
<circle cx="427.61" cy="154.31" r="0.8" fill="#20208a"/>
<circle cx="424.90" cy="157.38" r="0.8" fill="#20208a"/>
<circle cx="423.87" cy="156.63" r="0.8" fill="#20208a"/>
<circle cx="424.66" cy="155.85" r="0.8" fill="#20208a"/>
<circle cx="424.78" cy="155.92" r="0.8" fill="#20208a"/>
<circle cx="422.88" cy="152.86" r="0.8" fill="#20208a"/>
<circle cx="426.99" cy="157.61" r="0.8" fill="#20208a"/>
<circle cx="418.03" cy="154.93" r="0.8" fill="#20208a"/>
<circle cx="416.95" cy="155.99" r="0.8" fill="#20208a"/>
<circle cx="421.06" cy="155.32" r="0.8" fill="#20208a"/>
<circle cx="427.60" cy="158.12" r="0.8" fill="#20208a"/>
<circle cx="424.00" cy="155.81" r="0.8" fill="#20208a"/>
<circle cx="424.56" cy="156.23" r="0.8" fill="#20208a"/>
<circle cx="427.32" cy="157.42" r="0.8" fill="#20208a"/>
<circle cx="421.88" cy="156.49" r="0.8" fill="#20208a"/>
<circle cx="425.46" cy="155.09" r="0.8" fill="#20208a"/>
<circle cx="417.66" cy="156.30" r="0.8" fill="#20208a"/>
<circle cx="425.37" cy="156.70" r="0.8" fill="#20208a"/>
<circle cx="421.05" cy="157.89" r="0.8" fill="#20208a"/>
<circle cx="424.35" cy="153.04" r="0.8" fill="#20208a"/>
<circle cx="419.69" cy="157.51" r="0.8" fill="#20208a"/>
<circle cx="427.57" cy="157.90" r="0.8" fill="#20208a"/>
<circle cx="419.38" cy="158.35" r="0.8" fill="#20208a"/>
<circle cx="426.05" cy="156.01" r="0.8" fill="#20208a"/>
<circle cx="426.52" cy="154.66" r="0.8" fill="#20208a"/>
<circle cx="420.16" cy="155.89" r="0.8" fill="#20208a"/>
<circle cx="427.75" cy="158.31" r="0.8" fill="#20208a"/>
<circle cx="423.58" cy="153.25" r="0.8" fill="#20208a"/>
<circle cx="417.75" cy="155.73" r="0.8" fill="#20208a"/>
<circle cx="423.46" cy="157.68" r="0.8" fill="#20208a"/>
<circle cx="423.73" cy="155.13" r="0.8" fill="#20208a"/>
<circle cx="420.94" cy="155.25" r="0.8" fill="#20208a"/>
<circle cx="427.94" cy="155.31" r="0.8" fill="#20208a"/>
<circle cx="420.25" cy="156.62" r="0.8" fill="#20208a"/>
<circle cx="427.16" cy="153.43" r="0.8" fill="#20208a"/>
<circle cx="425.45" cy="156.76" r="0.8" fill="#20208a"/>
<circle cx="420.04" cy="157.90" r="0.8" fill="#20208a"/>
<circle cx="441.80" cy="38.80" r="0.9" fill="#d42422"/>
<circle cx="442.00" cy="42.10" r="0.9" fill="#d42422"/>
<circle cx="441.20" cy="44.60" r="0.9" fill="#d42422"/>
<circle cx="443.50" cy="46.90" r="0.9" fill="#d42422"/>
<circle cx="447.50" cy="38.50" r="0.9" fill="#d42422"/>
<circle cx="449.50" cy="37.30" r="0.9" fill="#d42422"/>
<circle cx="447.30" cy="59.00" r="0.9" fill="#d42422"/>
<circle cx="446.00" cy="145.00" r="0.8" fill="#20208a"/>
<circle cx="450.00" cy="147.00" r="0.8" fill="#20208a"/>
<circle cx="441.00" cy="148.00" r="0.8" fill="#20208a"/>
<circle cx="443.23" cy="155.19" r="0.8" fill="#20208a"/>
<circle cx="450.08" cy="155.62" r="0.8" fill="#20208a"/>
<circle cx="441.29" cy="155.72" r="0.8" fill="#20208a"/>
<circle cx="447.55" cy="155.51" r="0.8" fill="#20208a"/>
<circle cx="448.52" cy="157.88" r="0.8" fill="#20208a"/>
<circle cx="449.77" cy="156.15" r="0.8" fill="#20208a"/>
<circle cx="446.48" cy="156.52" r="0.8" fill="#20208a"/>
<circle cx="443.47" cy="157.12" r="0.8" fill="#20208a"/>
<circle cx="440.66" cy="151.78" r="0.8" fill="#20208a"/>
<circle cx="445.62" cy="155.11" r="0.8" fill="#20208a"/>
<circle cx="442.00" cy="153.87" r="0.8" fill="#20208a"/>
<circle cx="440.11" cy="153.90" r="0.8" fill="#20208a"/>
<circle cx="448.18" cy="155.00" r="0.8" fill="#20208a"/>
<circle cx="440.93" cy="155.53" r="0.8" fill="#20208a"/>
<circle cx="445.33" cy="158.31" r="0.8" fill="#20208a"/>
<circle cx="445.92" cy="156.43" r="0.8" fill="#20208a"/>
<circle cx="447.73" cy="156.61" r="0.8" fill="#20208a"/>
<circle cx="445.59" cy="155.52" r="0.8" fill="#20208a"/>
<circle cx="442.18" cy="151.60" r="0.8" fill="#20208a"/>
<circle cx="443.59" cy="150.82" r="0.8" fill="#20208a"/>
<circle cx="445.32" cy="156.78" r="0.8" fill="#20208a"/>
<circle cx="442.22" cy="156.60" r="0.8" fill="#20208a"/>
<circle cx="445.76" cy="152.46" r="0.8" fill="#20208a"/>
<circle cx="440.66" cy="156.59" r="0.8" fill="#20208a"/>
<circle cx="442.63" cy="156.65" r="0.8" fill="#20208a"/>
<circle cx="446.16" cy="157.85" r="0.8" fill="#20208a"/>
<circle cx="440.51" cy="156.96" r="0.8" fill="#20208a"/>
<circle cx="442.34" cy="152.42" r="0.8" fill="#20208a"/>
<circle cx="441.18" cy="156.17" r="0.8" fill="#20208a"/>
<circle cx="441.85" cy="151.78" r="0.8" fill="#20208a"/>
<circle cx="441.24" cy="158.02" r="0.8" fill="#20208a"/>
<circle cx="443.59" cy="155.00" r="0.8" fill="#20208a"/>
<circle cx="439.84" cy="153.90" r="0.8" fill="#20208a"/>
<circle cx="441.89" cy="153.51" r="0.8" fill="#20208a"/>
<circle cx="441.19" cy="156.03" r="0.8" fill="#20208a"/>
<circle cx="446.27" cy="156.08" r="0.8" fill="#20208a"/>
<circle cx="448.62" cy="157.74" r="0.8" fill="#20208a"/>
<circle cx="448.91" cy="156.29" r="0.8" fill="#20208a"/>
<circle cx="443.56" cy="156.47" r="0.8" fill="#20208a"/>
<circle cx="441.43" cy="157.49" r="0.8" fill="#20208a"/>
<circle cx="442.12" cy="156.23" r="0.8" fill="#20208a"/>
<circle cx="447.07" cy="150.04" r="0.8" fill="#20208a"/>
<circle cx="445.30" cy="155.22" r="0.8" fill="#20208a"/>
<circle cx="440.05" cy="154.72" r="0.8" fill="#20208a"/>
<circle cx="443.34" cy="154.92" r="0.8" fill="#20208a"/>
<circle cx="449.03" cy="158.23" r="0.8" fill="#20208a"/>
<circle cx="439.67" cy="158.32" r="0.8" fill="#20208a"/>
<circle cx="449.15" cy="155.76" r="0.8" fill="#20208a"/>
<circle cx="449.43" cy="157.96" r="0.8" fill="#20208a"/>
<circle cx="449.08" cy="150.93" r="0.8" fill="#20208a"/>
<circle cx="447.54" cy="152.02" r="0.8" fill="#20208a"/>
<circle cx="438.69" cy="154.59" r="0.8" fill="#20208a"/>
<circle cx="444.56" cy="156.19" r="0.8" fill="#20208a"/>
<circle cx="442.30" cy="156.42" r="0.8" fill="#20208a"/>
<circle cx="442.64" cy="158.24" r="0.8" fill="#20208a"/>
<circle cx="438.87" cy="156.61" r="0.8" fill="#20208a"/>
<circle cx="461.40" cy="38.50" r="0.9" fill="#d42422"/>
<circle cx="463.00" cy="37.10" r="0.9" fill="#d42422"/>
<circle cx="465.00" cy="37.30" r="0.9" fill="#d42422"/>
<circle cx="466.50" cy="40.80" r="0.9" fill="#d42422"/>
<circle cx="469.80" cy="42.10" r="0.9" fill="#d42422"/>
<circle cx="471.70" cy="45.40" r="0.9" fill="#d42422"/>
<circle cx="461.80" cy="44.60" r="0.9" fill="#d42422"/>
<circle cx="462.60" cy="48.10" r="0.9" fill="#d42422"/>
<circle cx="461.40" cy="59.60" r="0.9" fill="#d42422"/>
<circle cx="464.00" cy="62.70" r="0.9" fill="#d42422"/>
<circle cx="468.00" cy="60.20" r="0.9" fill="#d42422"/>
<circle cx="468.20" cy="64.20" r="0.9" fill="#d42422"/>
<circle cx="464.00" cy="90.40" r="0.9" fill="#d42422"/>
<circle cx="462.00" cy="100.80" r="0.8" fill="#20208a"/>
<circle cx="465.00" cy="103.20" r="0.8" fill="#20208a"/>
<circle cx="461.70" cy="113.70" r="0.8" fill="#20208a"/>
<circle cx="464.00" cy="113.70" r="0.8" fill="#20208a"/>
<circle cx="464.00" cy="117.30" r="0.8" fill="#20208a"/>
<circle cx="472.00" cy="127.30" r="0.8" fill="#20208a"/>
<circle cx="469.80" cy="108.50" r="0.8" fill="#20208a"/>
<circle cx="471.30" cy="99.60" r="0.9" fill="#d42422"/>
<circle cx="466.00" cy="142.00" r="0.8" fill="#20208a"/>
<circle cx="463.00" cy="145.00" r="0.8" fill="#20208a"/>
<circle cx="468.00" cy="146.00" r="0.8" fill="#20208a"/>
<circle cx="466.74" cy="152.18" r="0.8" fill="#20208a"/>
<circle cx="472.05" cy="155.80" r="0.8" fill="#20208a"/>
<circle cx="467.94" cy="152.96" r="0.8" fill="#20208a"/>
<circle cx="471.45" cy="149.78" r="0.8" fill="#20208a"/>
<circle cx="471.21" cy="142.91" r="0.8" fill="#20208a"/>
<circle cx="471.03" cy="156.10" r="0.8" fill="#20208a"/>
<circle cx="467.17" cy="148.26" r="0.8" fill="#20208a"/>
<circle cx="461.36" cy="154.63" r="0.8" fill="#20208a"/>
<circle cx="467.73" cy="156.86" r="0.8" fill="#20208a"/>
<circle cx="469.61" cy="156.17" r="0.8" fill="#20208a"/>
<circle cx="472.10" cy="157.46" r="0.8" fill="#20208a"/>
<circle cx="468.96" cy="155.61" r="0.8" fill="#20208a"/>
<circle cx="471.16" cy="154.01" r="0.8" fill="#20208a"/>
<circle cx="463.60" cy="154.97" r="0.8" fill="#20208a"/>
<circle cx="467.98" cy="155.26" r="0.8" fill="#20208a"/>
<circle cx="465.59" cy="149.02" r="0.8" fill="#20208a"/>
<circle cx="471.27" cy="157.23" r="0.8" fill="#20208a"/>
<circle cx="470.43" cy="155.03" r="0.8" fill="#20208a"/>
<circle cx="468.90" cy="141.85" r="0.8" fill="#20208a"/>
<circle cx="469.70" cy="155.49" r="0.8" fill="#20208a"/>
<circle cx="467.21" cy="158.28" r="0.8" fill="#20208a"/>
<circle cx="470.31" cy="155.96" r="0.8" fill="#20208a"/>
<circle cx="464.07" cy="152.46" r="0.8" fill="#20208a"/>
<circle cx="464.63" cy="154.62" r="0.8" fill="#20208a"/>
<circle cx="470.38" cy="157.76" r="0.8" fill="#20208a"/>
<circle cx="463.63" cy="156.05" r="0.8" fill="#20208a"/>
<circle cx="470.73" cy="155.06" r="0.8" fill="#20208a"/>
<circle cx="470.37" cy="156.07" r="0.8" fill="#20208a"/>
<circle cx="465.86" cy="157.92" r="0.8" fill="#20208a"/>
<circle cx="464.37" cy="141.85" r="0.8" fill="#20208a"/>
<circle cx="461.43" cy="156.15" r="0.8" fill="#20208a"/>
<circle cx="472.19" cy="151.18" r="0.8" fill="#20208a"/>
<circle cx="466.21" cy="152.68" r="0.8" fill="#20208a"/>
<circle cx="462.68" cy="146.42" r="0.8" fill="#20208a"/>
<circle cx="467.71" cy="157.22" r="0.8" fill="#20208a"/>
<circle cx="465.11" cy="157.86" r="0.8" fill="#20208a"/>
<circle cx="467.99" cy="156.31" r="0.8" fill="#20208a"/>
<circle cx="463.70" cy="153.09" r="0.8" fill="#20208a"/>
<circle cx="470.53" cy="155.66" r="0.8" fill="#20208a"/>
<circle cx="461.78" cy="152.96" r="0.8" fill="#20208a"/>
<circle cx="469.38" cy="148.58" r="0.8" fill="#20208a"/>
<line x1="296.80" y1="33.80" x2="296.80" y2="161.00" stroke="#222" stroke-width="1.0"/>
<line x1="296.30" y1="160.60" x2="481.90" y2="160.60" stroke="#222" stroke-width="1.0"/>
<line x1="294.20" y1="160.50" x2="296.80" y2="160.50" stroke="#222" stroke-width="1.0"/>
<text x="291.30" y="162.70" font-size="6.2" text-anchor="end" fill="#333" >0</text>
<line x1="294.20" y1="135.50" x2="296.80" y2="135.50" stroke="#222" stroke-width="1.0"/>
<text x="291.30" y="137.70" font-size="6.2" text-anchor="end" fill="#333" >0.2</text>
<line x1="294.20" y1="110.50" x2="296.80" y2="110.50" stroke="#222" stroke-width="1.0"/>
<text x="291.30" y="112.70" font-size="6.2" text-anchor="end" fill="#333" >0.4</text>
<line x1="294.20" y1="85.50" x2="296.80" y2="85.50" stroke="#222" stroke-width="1.0"/>
<text x="291.30" y="87.70" font-size="6.2" text-anchor="end" fill="#333" >0.6</text>
<line x1="294.20" y1="60.50" x2="296.80" y2="60.50" stroke="#222" stroke-width="1.0"/>
<text x="291.30" y="62.70" font-size="6.2" text-anchor="end" fill="#333" >0.8</text>
<line x1="294.20" y1="35.50" x2="296.80" y2="35.50" stroke="#222" stroke-width="1.0"/>
<text x="291.30" y="37.70" font-size="6.2" text-anchor="end" fill="#333" >1</text>
<line x1="312.50" y1="160.60" x2="312.50" y2="163.20" stroke="#222" stroke-width="1.0"/>
<text x="312.80" y="169.40" font-size="6.1" text-anchor="end" fill="#333" textLength="22.4" lengthAdjust="spacingAndGlyphs" transform="rotate(-45 312.80 169.40)" >BCL11B</text>
<line x1="334.50" y1="160.60" x2="334.50" y2="163.20" stroke="#222" stroke-width="1.0"/>
<text x="334.84" y="169.40" font-size="6.1" text-anchor="end" fill="#333" textLength="37.5" lengthAdjust="spacingAndGlyphs" transform="rotate(-45 334.84 169.40)" >HOXA_KMT2A</text>
<line x1="356.50" y1="160.60" x2="356.50" y2="163.20" stroke="#222" stroke-width="1.0"/>
<text x="356.88" y="169.40" font-size="6.1" text-anchor="end" fill="#333" textLength="39.1" lengthAdjust="spacingAndGlyphs" transform="rotate(-45 356.88 169.40)" >HOXA_MLLT10</text>
<line x1="378.50" y1="160.60" x2="378.50" y2="163.20" stroke="#222" stroke-width="1.0"/>
<text x="378.92" y="169.40" font-size="6.1" text-anchor="end" fill="#333" textLength="15.1" lengthAdjust="spacingAndGlyphs" transform="rotate(-45 378.92 169.40)" >NKX2</text>
<line x1="400.50" y1="160.60" x2="400.50" y2="163.20" stroke="#222" stroke-width="1.0"/>
<text x="400.96" y="169.40" font-size="6.1" text-anchor="end" fill="#333" textLength="24.0" lengthAdjust="spacingAndGlyphs" transform="rotate(-45 400.96 169.40)" >TAL/LMO</text>
<line x1="422.50" y1="160.60" x2="422.50" y2="163.20" stroke="#222" stroke-width="1.0"/>
<text x="423.00" y="169.40" font-size="6.1" text-anchor="end" fill="#333" textLength="12.6" lengthAdjust="spacingAndGlyphs" transform="rotate(-45 423.00 169.40)" >TLX1</text>
<line x1="444.50" y1="160.60" x2="444.50" y2="163.20" stroke="#222" stroke-width="1.0"/>
<text x="445.04" y="169.40" font-size="6.1" text-anchor="end" fill="#333" textLength="12.6" lengthAdjust="spacingAndGlyphs" transform="rotate(-45 445.04 169.40)" >TLX3</text>
<line x1="466.50" y1="160.60" x2="466.50" y2="163.20" stroke="#222" stroke-width="1.0"/>
<text x="467.08" y="169.40" font-size="6.1" text-anchor="end" fill="#333" textLength="18.6" lengthAdjust="spacingAndGlyphs" transform="rotate(-45 467.08 169.40)" >Diverse</text>
<text x="389.40" y="210.60" font-size="8.2" text-anchor="middle" fill="#2b2b2b" textLength="22.6" lengthAdjust="spacingAndGlyphs" stroke="#2b2b2b" stroke-width="0.22">Classifier</text>
<text x="277.20" y="96.80" font-size="6.8" text-anchor="middle" fill="#2b2b2b" textLength="26.0" lengthAdjust="spacingAndGlyphs" transform="rotate(-90 277.20 96.80)" stroke="#2b2b2b" stroke-width="0.22">Probability</text>
<text x="141.50" y="237.00" font-size="7.8" text-anchor="middle" fill="#2b2b2b" textLength="73.4" lengthAdjust="spacingAndGlyphs" >Waterfall distribution:</text>
<text x="141.50" y="246.60" font-size="7.8" text-anchor="middle" fill="#2b2b2b" textLength="79.2" lengthAdjust="spacingAndGlyphs" >Holdout (112 samples)</text>
<rect x="55.50" y="261.78" width="2.00" height="58.92" fill="#3c3c3c" stroke="#ffffff" stroke-width="0.25" stroke-opacity="0.14"/>
<rect x="57.50" y="256.49" width="1.43" height="64.21" fill="#f7d95e" stroke="#ffffff" stroke-width="0.25" stroke-opacity="0.14"/>
<rect x="58.93" y="256.49" width="1.43" height="64.21" fill="#f7d95e" stroke="#ffffff" stroke-width="0.25" stroke-opacity="0.14"/>
<rect x="60.37" y="257.15" width="1.43" height="63.55" fill="#f7d95e" stroke="#ffffff" stroke-width="0.25" stroke-opacity="0.14"/>
<rect x="61.80" y="256.49" width="1.57" height="64.21" fill="#98d06c" stroke="#ffffff" stroke-width="0.25" stroke-opacity="0.14"/>
<rect x="63.37" y="256.49" width="1.57" height="64.21" fill="#98d06c" stroke="#ffffff" stroke-width="0.25" stroke-opacity="0.14"/>
<rect x="64.93" y="256.49" width="1.57" height="64.21" fill="#98d06c" stroke="#ffffff" stroke-width="0.25" stroke-opacity="0.14"/>
<rect x="66.50" y="266.42" width="1.57" height="54.28" fill="#98d06c" stroke="#ffffff" stroke-width="0.25" stroke-opacity="0.14"/>
<rect x="68.07" y="273.04" width="1.57" height="47.66" fill="#98d06c" stroke="#ffffff" stroke-width="0.25" stroke-opacity="0.14"/>
<rect x="69.63" y="277.34" width="1.57" height="43.36" fill="#98d06c" stroke="#ffffff" stroke-width="0.25" stroke-opacity="0.14"/>
<rect x="71.20" y="256.49" width="1.47" height="64.21" fill="#8966bf" stroke="#ffffff" stroke-width="0.25" stroke-opacity="0.14"/>
<rect x="72.67" y="257.15" width="1.47" height="63.55" fill="#8966bf" stroke="#ffffff" stroke-width="0.25" stroke-opacity="0.14"/>
<rect x="74.14" y="259.13" width="1.47" height="61.57" fill="#8966bf" stroke="#ffffff" stroke-width="0.25" stroke-opacity="0.14"/>
<rect x="75.61" y="262.44" width="1.47" height="58.26" fill="#8966bf" stroke="#ffffff" stroke-width="0.25" stroke-opacity="0.14"/>
<rect x="77.09" y="266.42" width="1.47" height="54.28" fill="#8966bf" stroke="#ffffff" stroke-width="0.25" stroke-opacity="0.14"/>
<rect x="78.56" y="269.73" width="1.47" height="50.97" fill="#8966bf" stroke="#ffffff" stroke-width="0.25" stroke-opacity="0.14"/>
<rect x="80.03" y="271.71" width="1.47" height="48.99" fill="#8966bf" stroke="#ffffff" stroke-width="0.25" stroke-opacity="0.14"/>
<rect x="81.50" y="255.49" width="1.52" height="65.21" fill="#ea6450" stroke="#ffffff" stroke-width="0.25" stroke-opacity="0.14"/>
<rect x="83.02" y="255.50" width="1.52" height="65.20" fill="#ea6450" stroke="#ffffff" stroke-width="0.25" stroke-opacity="0.14"/>
<rect x="84.53" y="255.53" width="1.52" height="65.17" fill="#ea6450" stroke="#ffffff" stroke-width="0.25" stroke-opacity="0.14"/>
<rect x="86.05" y="255.55" width="1.52" height="65.15" fill="#ea6450" stroke="#ffffff" stroke-width="0.25" stroke-opacity="0.14"/>
<rect x="87.56" y="255.58" width="1.52" height="65.12" fill="#ea6450" stroke="#ffffff" stroke-width="0.25" stroke-opacity="0.14"/>
<rect x="89.08" y="255.62" width="1.52" height="65.08" fill="#ea6450" stroke="#ffffff" stroke-width="0.25" stroke-opacity="0.14"/>
<rect x="90.59" y="255.66" width="1.52" height="65.04" fill="#ea6450" stroke="#ffffff" stroke-width="0.25" stroke-opacity="0.14"/>
<rect x="92.11" y="255.70" width="1.52" height="65.00" fill="#ea6450" stroke="#ffffff" stroke-width="0.25" stroke-opacity="0.14"/>
<rect x="93.63" y="255.75" width="1.52" height="64.95" fill="#ea6450" stroke="#ffffff" stroke-width="0.25" stroke-opacity="0.14"/>
<rect x="95.14" y="255.80" width="1.52" height="64.90" fill="#ea6450" stroke="#ffffff" stroke-width="0.25" stroke-opacity="0.14"/>
<rect x="96.66" y="255.85" width="1.52" height="64.85" fill="#ea6450" stroke="#ffffff" stroke-width="0.25" stroke-opacity="0.14"/>
<rect x="98.17" y="255.91" width="1.52" height="64.79" fill="#ea6450" stroke="#ffffff" stroke-width="0.25" stroke-opacity="0.14"/>
<rect x="99.69" y="255.96" width="1.52" height="64.74" fill="#ea6450" stroke="#ffffff" stroke-width="0.25" stroke-opacity="0.14"/>
<rect x="101.20" y="256.02" width="1.52" height="64.68" fill="#ea6450" stroke="#ffffff" stroke-width="0.25" stroke-opacity="0.14"/>
<rect x="102.72" y="256.09" width="1.52" height="64.61" fill="#ea6450" stroke="#ffffff" stroke-width="0.25" stroke-opacity="0.14"/>
<rect x="104.24" y="256.15" width="1.52" height="64.55" fill="#ea6450" stroke="#ffffff" stroke-width="0.25" stroke-opacity="0.14"/>
<rect x="105.75" y="256.22" width="1.52" height="64.48" fill="#ea6450" stroke="#ffffff" stroke-width="0.25" stroke-opacity="0.14"/>
<rect x="107.27" y="256.29" width="1.52" height="64.41" fill="#ea6450" stroke="#ffffff" stroke-width="0.25" stroke-opacity="0.14"/>
<rect x="108.78" y="256.36" width="1.52" height="64.34" fill="#ea6450" stroke="#ffffff" stroke-width="0.25" stroke-opacity="0.14"/>
<rect x="110.30" y="256.43" width="1.52" height="64.27" fill="#ea6450" stroke="#ffffff" stroke-width="0.25" stroke-opacity="0.14"/>
<rect x="111.81" y="256.51" width="1.52" height="64.19" fill="#ea6450" stroke="#ffffff" stroke-width="0.25" stroke-opacity="0.14"/>
<rect x="113.33" y="256.59" width="1.52" height="64.11" fill="#ea6450" stroke="#ffffff" stroke-width="0.25" stroke-opacity="0.14"/>
<rect x="114.85" y="256.66" width="1.52" height="64.04" fill="#ea6450" stroke="#ffffff" stroke-width="0.25" stroke-opacity="0.14"/>
<rect x="116.36" y="256.74" width="1.52" height="63.96" fill="#ea6450" stroke="#ffffff" stroke-width="0.25" stroke-opacity="0.14"/>
<rect x="117.88" y="256.83" width="1.52" height="63.87" fill="#ea6450" stroke="#ffffff" stroke-width="0.25" stroke-opacity="0.14"/>
<rect x="119.39" y="256.91" width="1.52" height="63.79" fill="#ea6450" stroke="#ffffff" stroke-width="0.25" stroke-opacity="0.14"/>
<rect x="120.91" y="257.00" width="1.52" height="63.70" fill="#ea6450" stroke="#ffffff" stroke-width="0.25" stroke-opacity="0.14"/>
<rect x="122.42" y="257.08" width="1.52" height="63.62" fill="#ea6450" stroke="#ffffff" stroke-width="0.25" stroke-opacity="0.14"/>
<rect x="123.94" y="257.17" width="1.52" height="63.53" fill="#ea6450" stroke="#ffffff" stroke-width="0.25" stroke-opacity="0.14"/>
<rect x="125.45" y="257.27" width="1.52" height="63.43" fill="#ea6450" stroke="#ffffff" stroke-width="0.25" stroke-opacity="0.14"/>
<rect x="126.97" y="257.36" width="1.52" height="63.34" fill="#ea6450" stroke="#ffffff" stroke-width="0.25" stroke-opacity="0.14"/>
<rect x="128.49" y="257.45" width="1.52" height="63.25" fill="#ea6450" stroke="#ffffff" stroke-width="0.25" stroke-opacity="0.14"/>
<rect x="130.00" y="257.55" width="1.52" height="63.15" fill="#ea6450" stroke="#ffffff" stroke-width="0.25" stroke-opacity="0.14"/>
<rect x="131.52" y="257.64" width="1.52" height="63.06" fill="#ea6450" stroke="#ffffff" stroke-width="0.25" stroke-opacity="0.14"/>
<rect x="133.03" y="257.74" width="1.52" height="62.96" fill="#ea6450" stroke="#ffffff" stroke-width="0.25" stroke-opacity="0.14"/>
<rect x="134.55" y="257.84" width="1.52" height="62.86" fill="#ea6450" stroke="#ffffff" stroke-width="0.25" stroke-opacity="0.14"/>
<rect x="136.06" y="257.94" width="1.52" height="62.76" fill="#ea6450" stroke="#ffffff" stroke-width="0.25" stroke-opacity="0.14"/>
<rect x="137.58" y="258.05" width="1.52" height="62.65" fill="#ea6450" stroke="#ffffff" stroke-width="0.25" stroke-opacity="0.14"/>
<rect x="139.10" y="258.15" width="1.52" height="62.55" fill="#ea6450" stroke="#ffffff" stroke-width="0.25" stroke-opacity="0.14"/>
<rect x="140.61" y="258.26" width="1.52" height="62.44" fill="#ea6450" stroke="#ffffff" stroke-width="0.25" stroke-opacity="0.14"/>
<rect x="142.13" y="258.36" width="1.52" height="62.34" fill="#ea6450" stroke="#ffffff" stroke-width="0.25" stroke-opacity="0.14"/>
<rect x="143.64" y="258.47" width="1.52" height="62.23" fill="#ea6450" stroke="#ffffff" stroke-width="0.25" stroke-opacity="0.14"/>
<rect x="145.16" y="259.46" width="1.52" height="61.24" fill="#ea6450" stroke="#ffffff" stroke-width="0.25" stroke-opacity="0.14"/>
<rect x="146.67" y="259.80" width="1.52" height="60.90" fill="#ea6450" stroke="#ffffff" stroke-width="0.25" stroke-opacity="0.14"/>
<rect x="148.19" y="260.13" width="1.52" height="60.57" fill="#ea6450" stroke="#ffffff" stroke-width="0.25" stroke-opacity="0.14"/>
<rect x="149.71" y="260.46" width="1.52" height="60.24" fill="#ea6450" stroke="#ffffff" stroke-width="0.25" stroke-opacity="0.14"/>
<rect x="151.22" y="262.44" width="1.52" height="58.26" fill="#ea6450" stroke="#ffffff" stroke-width="0.25" stroke-opacity="0.14"/>
<rect x="152.74" y="262.44" width="1.52" height="58.26" fill="#ea6450" stroke="#ffffff" stroke-width="0.25" stroke-opacity="0.14"/>
<rect x="154.25" y="265.09" width="1.52" height="55.61" fill="#ea6450" stroke="#ffffff" stroke-width="0.25" stroke-opacity="0.14"/>
<rect x="155.77" y="267.74" width="1.52" height="52.96" fill="#ea6450" stroke="#ffffff" stroke-width="0.25" stroke-opacity="0.14"/>
<rect x="157.28" y="279.66" width="1.52" height="41.04" fill="#ea6450" stroke="#ffffff" stroke-width="0.25" stroke-opacity="0.14"/>
<rect x="158.80" y="255.82" width="1.55" height="64.88" fill="#4f86c6" stroke="#ffffff" stroke-width="0.25" stroke-opacity="0.14"/>
<rect x="160.35" y="255.82" width="1.55" height="64.88" fill="#4f86c6" stroke="#ffffff" stroke-width="0.25" stroke-opacity="0.14"/>
<rect x="161.91" y="256.49" width="1.55" height="64.21" fill="#4f86c6" stroke="#ffffff" stroke-width="0.25" stroke-opacity="0.14"/>
<rect x="163.46" y="256.49" width="1.55" height="64.21" fill="#4f86c6" stroke="#ffffff" stroke-width="0.25" stroke-opacity="0.14"/>
<rect x="165.02" y="257.15" width="1.55" height="63.55" fill="#4f86c6" stroke="#ffffff" stroke-width="0.25" stroke-opacity="0.14"/>
<rect x="166.57" y="257.81" width="1.55" height="62.89" fill="#4f86c6" stroke="#ffffff" stroke-width="0.25" stroke-opacity="0.14"/>
<rect x="168.13" y="258.47" width="1.55" height="62.23" fill="#4f86c6" stroke="#ffffff" stroke-width="0.25" stroke-opacity="0.14"/>
<rect x="169.68" y="259.80" width="1.55" height="60.90" fill="#4f86c6" stroke="#ffffff" stroke-width="0.25" stroke-opacity="0.14"/>
<rect x="171.24" y="261.12" width="1.55" height="59.58" fill="#4f86c6" stroke="#ffffff" stroke-width="0.25" stroke-opacity="0.14"/>
<rect x="172.79" y="262.44" width="1.55" height="58.26" fill="#4f86c6" stroke="#ffffff" stroke-width="0.25" stroke-opacity="0.14"/>
<rect x="174.35" y="263.77" width="1.55" height="56.93" fill="#4f86c6" stroke="#ffffff" stroke-width="0.25" stroke-opacity="0.14"/>
<rect x="175.90" y="255.49" width="1.50" height="65.21" fill="#52c8e2" stroke="#ffffff" stroke-width="0.25" stroke-opacity="0.14"/>
<rect x="177.41" y="255.49" width="1.50" height="65.21" fill="#52c8e2" stroke="#ffffff" stroke-width="0.25" stroke-opacity="0.14"/>
<rect x="178.91" y="255.82" width="1.50" height="64.88" fill="#52c8e2" stroke="#ffffff" stroke-width="0.25" stroke-opacity="0.14"/>
<rect x="180.41" y="255.82" width="1.50" height="64.88" fill="#52c8e2" stroke="#ffffff" stroke-width="0.25" stroke-opacity="0.14"/>
<rect x="181.92" y="255.82" width="1.50" height="64.88" fill="#52c8e2" stroke="#ffffff" stroke-width="0.25" stroke-opacity="0.14"/>
<rect x="183.43" y="256.15" width="1.50" height="64.55" fill="#52c8e2" stroke="#ffffff" stroke-width="0.25" stroke-opacity="0.14"/>
<rect x="184.93" y="256.15" width="1.50" height="64.55" fill="#52c8e2" stroke="#ffffff" stroke-width="0.25" stroke-opacity="0.14"/>
<rect x="186.44" y="256.49" width="1.50" height="64.21" fill="#52c8e2" stroke="#ffffff" stroke-width="0.25" stroke-opacity="0.14"/>
<rect x="187.94" y="256.49" width="1.50" height="64.21" fill="#52c8e2" stroke="#ffffff" stroke-width="0.25" stroke-opacity="0.14"/>
<rect x="189.44" y="256.82" width="1.50" height="63.88" fill="#52c8e2" stroke="#ffffff" stroke-width="0.25" stroke-opacity="0.14"/>
<rect x="190.95" y="257.15" width="1.50" height="63.55" fill="#52c8e2" stroke="#ffffff" stroke-width="0.25" stroke-opacity="0.14"/>
<rect x="192.46" y="257.15" width="1.50" height="63.55" fill="#52c8e2" stroke="#ffffff" stroke-width="0.25" stroke-opacity="0.14"/>
<rect x="193.96" y="257.48" width="1.50" height="63.22" fill="#52c8e2" stroke="#ffffff" stroke-width="0.25" stroke-opacity="0.14"/>
<rect x="195.47" y="257.81" width="1.50" height="62.89" fill="#52c8e2" stroke="#ffffff" stroke-width="0.25" stroke-opacity="0.14"/>
<rect x="196.97" y="257.81" width="1.50" height="62.89" fill="#52c8e2" stroke="#ffffff" stroke-width="0.25" stroke-opacity="0.14"/>
<rect x="198.47" y="258.14" width="1.50" height="62.56" fill="#52c8e2" stroke="#ffffff" stroke-width="0.25" stroke-opacity="0.14"/>
<rect x="199.98" y="258.47" width="1.50" height="62.23" fill="#52c8e2" stroke="#ffffff" stroke-width="0.25" stroke-opacity="0.14"/>
<rect x="201.49" y="258.47" width="1.50" height="62.23" fill="#52c8e2" stroke="#ffffff" stroke-width="0.25" stroke-opacity="0.14"/>
<rect x="202.99" y="258.80" width="1.50" height="61.90" fill="#52c8e2" stroke="#ffffff" stroke-width="0.25" stroke-opacity="0.14"/>
<rect x="204.50" y="278.33" width="1.50" height="42.37" fill="#52c8e2" stroke="#ffffff" stroke-width="0.25" stroke-opacity="0.14"/>
<rect x="206.00" y="255.16" width="1.49" height="65.54" fill="#ec88c0" stroke="#ffffff" stroke-width="0.25" stroke-opacity="0.14"/>
<rect x="207.49" y="255.49" width="1.49" height="65.21" fill="#ec88c0" stroke="#ffffff" stroke-width="0.25" stroke-opacity="0.14"/>
<rect x="208.98" y="255.82" width="1.49" height="64.88" fill="#ec88c0" stroke="#ffffff" stroke-width="0.25" stroke-opacity="0.14"/>
<rect x="210.47" y="256.15" width="1.49" height="64.55" fill="#ec88c0" stroke="#ffffff" stroke-width="0.25" stroke-opacity="0.14"/>
<rect x="211.97" y="256.49" width="1.49" height="64.21" fill="#ec88c0" stroke="#ffffff" stroke-width="0.25" stroke-opacity="0.14"/>
<rect x="213.46" y="257.15" width="1.49" height="63.55" fill="#ec88c0" stroke="#ffffff" stroke-width="0.25" stroke-opacity="0.14"/>
<rect x="214.95" y="257.81" width="1.49" height="62.89" fill="#ec88c0" stroke="#ffffff" stroke-width="0.25" stroke-opacity="0.14"/>
<rect x="216.44" y="258.47" width="1.49" height="62.23" fill="#ec88c0" stroke="#ffffff" stroke-width="0.25" stroke-opacity="0.14"/>
<rect x="217.93" y="259.80" width="1.49" height="60.90" fill="#ec88c0" stroke="#ffffff" stroke-width="0.25" stroke-opacity="0.14"/>
<rect x="219.43" y="261.78" width="1.49" height="58.92" fill="#ec88c0" stroke="#ffffff" stroke-width="0.25" stroke-opacity="0.14"/>
<rect x="220.92" y="264.43" width="1.49" height="56.27" fill="#ec88c0" stroke="#ffffff" stroke-width="0.25" stroke-opacity="0.14"/>
<rect x="222.41" y="267.08" width="1.49" height="53.62" fill="#ec88c0" stroke="#ffffff" stroke-width="0.25" stroke-opacity="0.14"/>
<rect x="223.90" y="304.15" width="1.60" height="16.55" fill="#8a8a8a" stroke="#ffffff" stroke-width="0.25" stroke-opacity="0.14"/>
<line x1="54.60" y1="287.5" x2="223.80" y2="287.5" stroke="#000" stroke-opacity="0.62" stroke-width="1"/>
<line x1="54.60" y1="252.80" x2="54.60" y2="321.10" stroke="#222" stroke-width="1.0"/>
<line x1="54.10" y1="320.70" x2="228.50" y2="320.70" stroke="#222" stroke-width="1.0"/>
<line x1="52.00" y1="320.50" x2="54.60" y2="320.50" stroke="#222" stroke-width="1.0"/>
<text x="49.10" y="322.80" font-size="6.2" text-anchor="end" fill="#333" >0</text>
<line x1="52.00" y1="307.50" x2="54.60" y2="307.50" stroke="#222" stroke-width="1.0"/>
<text x="49.10" y="309.56" font-size="6.2" text-anchor="end" fill="#333" >0.2</text>
<line x1="52.00" y1="294.50" x2="54.60" y2="294.50" stroke="#222" stroke-width="1.0"/>
<text x="49.10" y="296.32" font-size="6.2" text-anchor="end" fill="#333" >0.4</text>
<line x1="52.00" y1="280.50" x2="54.60" y2="280.50" stroke="#222" stroke-width="1.0"/>
<text x="49.10" y="283.08" font-size="6.2" text-anchor="end" fill="#333" >0.6</text>
<line x1="52.00" y1="267.50" x2="54.60" y2="267.50" stroke="#222" stroke-width="1.0"/>
<text x="49.10" y="269.84" font-size="6.2" text-anchor="end" fill="#333" >0.8</text>
<line x1="52.00" y1="254.50" x2="54.60" y2="254.50" stroke="#222" stroke-width="1.0"/>
<text x="49.10" y="256.60" font-size="6.2" text-anchor="end" fill="#333" >1</text>
<text x="141.50" y="331.00" font-size="7.9" text-anchor="middle" fill="#2b2b2b" textLength="21.5" lengthAdjust="spacingAndGlyphs" stroke="#2b2b2b" stroke-width="0.22">Samples</text>
<text x="141.50" y="341.00" font-size="6.3" text-anchor="middle" fill="#2b2b2b" textLength="52.7" lengthAdjust="spacingAndGlyphs" >Highest subtype call</text>
<text x="35.30" y="286.40" font-size="6.7" text-anchor="middle" fill="#2b2b2b" textLength="40.8" lengthAdjust="spacingAndGlyphs" transform="rotate(-90 35.30 286.40)" stroke="#2b2b2b" stroke-width="0.22">Probability score</text>
<rect x="71.20" y="349.00" width="5.50" height="5.30" fill="#141414" />
<text x="80.00" y="353.60" font-size="6.3" text-anchor="start" fill="#2b2b2b" textLength="23.8" lengthAdjust="spacingAndGlyphs" >BCL11B</text>
<rect x="71.20" y="358.60" width="5.50" height="5.30" fill="#f6d55c" />
<text x="80.00" y="363.20" font-size="6.3" text-anchor="start" fill="#2b2b2b" textLength="39.9" lengthAdjust="spacingAndGlyphs" >HOXA_KMT2A</text>
<rect x="71.20" y="368.20" width="5.50" height="5.30" fill="#7dc55a" />
<text x="80.00" y="372.80" font-size="6.3" text-anchor="start" fill="#2b2b2b" textLength="41.6" lengthAdjust="spacingAndGlyphs" >HOXA_MLLT10</text>
<rect x="130.00" y="349.00" width="5.50" height="5.30" fill="#7b4fb5" />
<text x="138.80" y="353.60" font-size="6.3" text-anchor="start" fill="#2b2b2b" textLength="16.1" lengthAdjust="spacingAndGlyphs" >NKX2</text>
<rect x="130.00" y="358.60" width="5.50" height="5.30" fill="#e9553e" />
<text x="138.80" y="363.20" font-size="6.3" text-anchor="start" fill="#2b2b2b" textLength="25.5" lengthAdjust="spacingAndGlyphs" >TAL/LMO</text>
<rect x="130.00" y="368.20" width="5.50" height="5.30" fill="#3f7fc0" />
<text x="138.80" y="372.80" font-size="6.3" text-anchor="start" fill="#2b2b2b" textLength="13.4" lengthAdjust="spacingAndGlyphs" >TLX1</text>
<rect x="172.50" y="349.00" width="5.50" height="5.30" fill="#45c3df" />
<text x="181.30" y="353.60" font-size="6.3" text-anchor="start" fill="#2b2b2b" textLength="13.4" lengthAdjust="spacingAndGlyphs" >TLX3</text>
<rect x="172.50" y="358.60" width="5.50" height="5.30" fill="#ea83c0" />
<text x="181.30" y="363.20" font-size="6.3" text-anchor="start" fill="#2b2b2b" textLength="19.8" lengthAdjust="spacingAndGlyphs" >Diverse</text>
<rect x="172.50" y="368.20" width="5.50" height="5.30" fill="#808080" />
<text x="181.30" y="372.80" font-size="6.3" text-anchor="start" fill="#2b2b2b" textLength="31.3" lengthAdjust="spacingAndGlyphs" >None/Other</text>
<text x="402.60" y="237.00" font-size="7.8" text-anchor="middle" fill="#2b2b2b" textLength="73.4" lengthAdjust="spacingAndGlyphs" >Waterfall distribution:</text>
<text x="402.60" y="246.60" font-size="7.8" text-anchor="middle" fill="#2b2b2b" textLength="115.3" lengthAdjust="spacingAndGlyphs" >Independent group (66 samples)</text>
<rect x="318.50" y="257.15" width="2.00" height="63.55" fill="#3c3c3c" stroke="#ffffff" stroke-width="0.25" stroke-opacity="0.3"/>
<rect x="320.50" y="259.80" width="2.65" height="60.90" fill="#f7d95e" stroke="#ffffff" stroke-width="0.25" stroke-opacity="0.3"/>
<rect x="323.15" y="269.06" width="2.65" height="51.64" fill="#f7d95e" stroke="#ffffff" stroke-width="0.25" stroke-opacity="0.3"/>
<rect x="325.80" y="286.94" width="2.40" height="33.76" fill="#98d06c" stroke="#ffffff" stroke-width="0.25" stroke-opacity="0.3"/>
<rect x="328.20" y="255.16" width="2.42" height="65.54" fill="#8966bf" stroke="#ffffff" stroke-width="0.25" stroke-opacity="0.3"/>
<rect x="330.62" y="255.16" width="2.42" height="65.54" fill="#8966bf" stroke="#ffffff" stroke-width="0.25" stroke-opacity="0.3"/>
<rect x="333.04" y="256.49" width="2.42" height="64.21" fill="#8966bf" stroke="#ffffff" stroke-width="0.25" stroke-opacity="0.3"/>
<rect x="335.46" y="256.49" width="2.42" height="64.21" fill="#8966bf" stroke="#ffffff" stroke-width="0.25" stroke-opacity="0.3"/>
<rect x="337.88" y="268.40" width="2.42" height="52.30" fill="#8966bf" stroke="#ffffff" stroke-width="0.25" stroke-opacity="0.3"/>
<rect x="340.30" y="255.82" width="2.53" height="64.88" fill="#ea6450" stroke="#ffffff" stroke-width="0.25" stroke-opacity="0.3"/>
<rect x="342.83" y="255.82" width="2.53" height="64.88" fill="#ea6450" stroke="#ffffff" stroke-width="0.25" stroke-opacity="0.3"/>
<rect x="345.36" y="255.82" width="2.53" height="64.88" fill="#ea6450" stroke="#ffffff" stroke-width="0.25" stroke-opacity="0.3"/>
<rect x="347.89" y="255.82" width="2.53" height="64.88" fill="#ea6450" stroke="#ffffff" stroke-width="0.25" stroke-opacity="0.3"/>
<rect x="350.42" y="255.82" width="2.53" height="64.88" fill="#ea6450" stroke="#ffffff" stroke-width="0.25" stroke-opacity="0.3"/>
<rect x="352.95" y="255.82" width="2.53" height="64.88" fill="#ea6450" stroke="#ffffff" stroke-width="0.25" stroke-opacity="0.3"/>
<rect x="355.48" y="255.82" width="2.53" height="64.88" fill="#ea6450" stroke="#ffffff" stroke-width="0.25" stroke-opacity="0.3"/>
<rect x="358.01" y="255.82" width="2.53" height="64.88" fill="#ea6450" stroke="#ffffff" stroke-width="0.25" stroke-opacity="0.3"/>
<rect x="360.54" y="255.82" width="2.53" height="64.88" fill="#ea6450" stroke="#ffffff" stroke-width="0.25" stroke-opacity="0.3"/>
<rect x="363.07" y="255.82" width="2.53" height="64.88" fill="#ea6450" stroke="#ffffff" stroke-width="0.25" stroke-opacity="0.3"/>
<rect x="365.60" y="255.82" width="2.53" height="64.88" fill="#ea6450" stroke="#ffffff" stroke-width="0.25" stroke-opacity="0.3"/>
<rect x="368.13" y="255.82" width="2.53" height="64.88" fill="#ea6450" stroke="#ffffff" stroke-width="0.25" stroke-opacity="0.3"/>
<rect x="370.66" y="255.82" width="2.53" height="64.88" fill="#ea6450" stroke="#ffffff" stroke-width="0.25" stroke-opacity="0.3"/>
<rect x="373.19" y="255.82" width="2.53" height="64.88" fill="#ea6450" stroke="#ffffff" stroke-width="0.25" stroke-opacity="0.3"/>
<rect x="375.72" y="256.15" width="2.53" height="64.55" fill="#ea6450" stroke="#ffffff" stroke-width="0.25" stroke-opacity="0.3"/>
<rect x="378.25" y="256.49" width="2.53" height="64.21" fill="#ea6450" stroke="#ffffff" stroke-width="0.25" stroke-opacity="0.3"/>
<rect x="380.78" y="256.49" width="2.53" height="64.21" fill="#ea6450" stroke="#ffffff" stroke-width="0.25" stroke-opacity="0.3"/>
<rect x="383.31" y="256.82" width="2.53" height="63.88" fill="#ea6450" stroke="#ffffff" stroke-width="0.25" stroke-opacity="0.3"/>
<rect x="385.84" y="257.15" width="2.53" height="63.55" fill="#ea6450" stroke="#ffffff" stroke-width="0.25" stroke-opacity="0.3"/>
<rect x="388.37" y="257.48" width="2.53" height="63.22" fill="#ea6450" stroke="#ffffff" stroke-width="0.25" stroke-opacity="0.3"/>
<rect x="390.90" y="257.81" width="2.53" height="62.89" fill="#ea6450" stroke="#ffffff" stroke-width="0.25" stroke-opacity="0.3"/>
<rect x="393.43" y="258.14" width="2.53" height="62.56" fill="#ea6450" stroke="#ffffff" stroke-width="0.25" stroke-opacity="0.3"/>
<rect x="395.96" y="258.47" width="2.53" height="62.23" fill="#ea6450" stroke="#ffffff" stroke-width="0.25" stroke-opacity="0.3"/>
<rect x="398.49" y="259.13" width="2.53" height="61.57" fill="#ea6450" stroke="#ffffff" stroke-width="0.25" stroke-opacity="0.3"/>
<rect x="401.02" y="259.80" width="2.53" height="60.90" fill="#ea6450" stroke="#ffffff" stroke-width="0.25" stroke-opacity="0.3"/>
<rect x="403.55" y="260.46" width="2.53" height="60.24" fill="#ea6450" stroke="#ffffff" stroke-width="0.25" stroke-opacity="0.3"/>
<rect x="406.08" y="261.12" width="2.53" height="59.58" fill="#ea6450" stroke="#ffffff" stroke-width="0.25" stroke-opacity="0.3"/>
<rect x="408.61" y="261.78" width="2.53" height="58.92" fill="#ea6450" stroke="#ffffff" stroke-width="0.25" stroke-opacity="0.3"/>
<rect x="411.14" y="262.44" width="2.53" height="58.26" fill="#ea6450" stroke="#ffffff" stroke-width="0.25" stroke-opacity="0.3"/>
<rect x="413.67" y="268.40" width="2.53" height="52.30" fill="#ea6450" stroke="#ffffff" stroke-width="0.25" stroke-opacity="0.3"/>
<rect x="416.20" y="260.46" width="2.65" height="60.24" fill="#4f86c6" stroke="#ffffff" stroke-width="0.25" stroke-opacity="0.3"/>
<rect x="418.85" y="261.12" width="2.65" height="59.58" fill="#4f86c6" stroke="#ffffff" stroke-width="0.25" stroke-opacity="0.3"/>
<rect x="421.50" y="255.82" width="2.64" height="64.88" fill="#52c8e2" stroke="#ffffff" stroke-width="0.25" stroke-opacity="0.3"/>
<rect x="424.14" y="256.49" width="2.64" height="64.21" fill="#52c8e2" stroke="#ffffff" stroke-width="0.25" stroke-opacity="0.3"/>
<rect x="426.79" y="257.15" width="2.64" height="63.55" fill="#52c8e2" stroke="#ffffff" stroke-width="0.25" stroke-opacity="0.3"/>
<rect x="429.43" y="258.47" width="2.64" height="62.23" fill="#52c8e2" stroke="#ffffff" stroke-width="0.25" stroke-opacity="0.3"/>
<rect x="432.07" y="259.13" width="2.64" height="61.57" fill="#52c8e2" stroke="#ffffff" stroke-width="0.25" stroke-opacity="0.3"/>
<rect x="434.71" y="259.80" width="2.64" height="60.90" fill="#52c8e2" stroke="#ffffff" stroke-width="0.25" stroke-opacity="0.3"/>
<rect x="437.36" y="266.42" width="2.64" height="54.28" fill="#52c8e2" stroke="#ffffff" stroke-width="0.25" stroke-opacity="0.3"/>
<rect x="440.00" y="255.82" width="2.51" height="64.88" fill="#ec88c0" stroke="#ffffff" stroke-width="0.25" stroke-opacity="0.3"/>
<rect x="442.51" y="255.82" width="2.51" height="64.88" fill="#ec88c0" stroke="#ffffff" stroke-width="0.25" stroke-opacity="0.3"/>
<rect x="445.01" y="256.15" width="2.51" height="64.55" fill="#ec88c0" stroke="#ffffff" stroke-width="0.25" stroke-opacity="0.3"/>
<rect x="447.52" y="257.15" width="2.51" height="63.55" fill="#ec88c0" stroke="#ffffff" stroke-width="0.25" stroke-opacity="0.3"/>
<rect x="450.03" y="257.81" width="2.51" height="62.89" fill="#ec88c0" stroke="#ffffff" stroke-width="0.25" stroke-opacity="0.3"/>
<rect x="452.54" y="258.47" width="2.51" height="62.23" fill="#ec88c0" stroke="#ffffff" stroke-width="0.25" stroke-opacity="0.3"/>
<rect x="455.04" y="259.13" width="2.51" height="61.57" fill="#ec88c0" stroke="#ffffff" stroke-width="0.25" stroke-opacity="0.3"/>
<rect x="457.55" y="259.80" width="2.51" height="60.90" fill="#ec88c0" stroke="#ffffff" stroke-width="0.25" stroke-opacity="0.3"/>
<rect x="460.06" y="267.74" width="2.51" height="52.96" fill="#ec88c0" stroke="#ffffff" stroke-width="0.25" stroke-opacity="0.3"/>
<rect x="462.56" y="267.74" width="2.51" height="52.96" fill="#ec88c0" stroke="#ffffff" stroke-width="0.25" stroke-opacity="0.3"/>
<rect x="465.07" y="268.40" width="2.51" height="52.30" fill="#ec88c0" stroke="#ffffff" stroke-width="0.25" stroke-opacity="0.3"/>
<rect x="467.58" y="269.06" width="2.51" height="51.64" fill="#ec88c0" stroke="#ffffff" stroke-width="0.25" stroke-opacity="0.3"/>
<rect x="470.09" y="284.29" width="2.51" height="36.41" fill="#ec88c0" stroke="#ffffff" stroke-width="0.25" stroke-opacity="0.3"/>
<rect x="472.59" y="284.29" width="2.51" height="36.41" fill="#ec88c0" stroke="#ffffff" stroke-width="0.25" stroke-opacity="0.3"/>
<rect x="475.10" y="289.59" width="2.38" height="31.11" fill="#8a8a8a" stroke="#ffffff" stroke-width="0.25" stroke-opacity="0.3"/>
<rect x="477.48" y="290.91" width="2.38" height="29.79" fill="#8a8a8a" stroke="#ffffff" stroke-width="0.25" stroke-opacity="0.3"/>
<rect x="479.85" y="292.90" width="2.38" height="27.80" fill="#8a8a8a" stroke="#ffffff" stroke-width="0.25" stroke-opacity="0.3"/>
<rect x="482.23" y="310.44" width="2.38" height="10.26" fill="#8a8a8a" stroke="#ffffff" stroke-width="0.25" stroke-opacity="0.3"/>
<line x1="316.20" y1="287.5" x2="474.60" y2="287.5" stroke="#000" stroke-opacity="0.62" stroke-width="1"/>
<line x1="316.20" y1="252.80" x2="316.20" y2="321.10" stroke="#222" stroke-width="1.0"/>
<line x1="315.70" y1="320.70" x2="487.70" y2="320.70" stroke="#222" stroke-width="1.0"/>
<line x1="313.60" y1="320.50" x2="316.20" y2="320.50" stroke="#222" stroke-width="1.0"/>
<text x="310.70" y="322.80" font-size="6.2" text-anchor="end" fill="#333" >0</text>
<line x1="313.60" y1="307.50" x2="316.20" y2="307.50" stroke="#222" stroke-width="1.0"/>
<text x="310.70" y="309.56" font-size="6.2" text-anchor="end" fill="#333" >0.2</text>
<line x1="313.60" y1="294.50" x2="316.20" y2="294.50" stroke="#222" stroke-width="1.0"/>
<text x="310.70" y="296.32" font-size="6.2" text-anchor="end" fill="#333" >0.4</text>
<line x1="313.60" y1="280.50" x2="316.20" y2="280.50" stroke="#222" stroke-width="1.0"/>
<text x="310.70" y="283.08" font-size="6.2" text-anchor="end" fill="#333" >0.6</text>
<line x1="313.60" y1="267.50" x2="316.20" y2="267.50" stroke="#222" stroke-width="1.0"/>
<text x="310.70" y="269.84" font-size="6.2" text-anchor="end" fill="#333" >0.8</text>
<line x1="313.60" y1="254.50" x2="316.20" y2="254.50" stroke="#222" stroke-width="1.0"/>
<text x="310.70" y="256.60" font-size="6.2" text-anchor="end" fill="#333" >1</text>
<text x="403.90" y="331.00" font-size="7.9" text-anchor="middle" fill="#2b2b2b" textLength="21.5" lengthAdjust="spacingAndGlyphs" stroke="#2b2b2b" stroke-width="0.22">Samples</text>
<text x="403.90" y="341.00" font-size="6.3" text-anchor="middle" fill="#2b2b2b" textLength="52.7" lengthAdjust="spacingAndGlyphs" >Highest subtype call</text>
<text x="296.90" y="286.40" font-size="6.7" text-anchor="middle" fill="#2b2b2b" textLength="40.8" lengthAdjust="spacingAndGlyphs" transform="rotate(-90 296.90 286.40)" stroke="#2b2b2b" stroke-width="0.22">Probability score</text>
<rect x="333.60" y="349.00" width="5.50" height="5.30" fill="#141414" />
<text x="342.40" y="353.60" font-size="6.3" text-anchor="start" fill="#2b2b2b" textLength="23.8" lengthAdjust="spacingAndGlyphs" >BCL11B</text>
<rect x="333.60" y="358.60" width="5.50" height="5.30" fill="#f6d55c" />
<text x="342.40" y="363.20" font-size="6.3" text-anchor="start" fill="#2b2b2b" textLength="39.9" lengthAdjust="spacingAndGlyphs" >HOXA_KMT2A</text>
<rect x="333.60" y="368.20" width="5.50" height="5.30" fill="#7dc55a" />
<text x="342.40" y="372.80" font-size="6.3" text-anchor="start" fill="#2b2b2b" textLength="41.6" lengthAdjust="spacingAndGlyphs" >HOXA_MLLT10</text>
<rect x="392.40" y="349.00" width="5.50" height="5.30" fill="#7b4fb5" />
<text x="401.20" y="353.60" font-size="6.3" text-anchor="start" fill="#2b2b2b" textLength="16.1" lengthAdjust="spacingAndGlyphs" >NKX2</text>
<rect x="392.40" y="358.60" width="5.50" height="5.30" fill="#e9553e" />
<text x="401.20" y="363.20" font-size="6.3" text-anchor="start" fill="#2b2b2b" textLength="25.5" lengthAdjust="spacingAndGlyphs" >TAL/LMO</text>
<rect x="392.40" y="368.20" width="5.50" height="5.30" fill="#3f7fc0" />
<text x="401.20" y="372.80" font-size="6.3" text-anchor="start" fill="#2b2b2b" textLength="13.4" lengthAdjust="spacingAndGlyphs" >TLX1</text>
<rect x="434.90" y="349.00" width="5.50" height="5.30" fill="#45c3df" />
<text x="443.70" y="353.60" font-size="6.3" text-anchor="start" fill="#2b2b2b" textLength="13.4" lengthAdjust="spacingAndGlyphs" >TLX3</text>
<rect x="434.90" y="358.60" width="5.50" height="5.30" fill="#ea83c0" />
<text x="443.70" y="363.20" font-size="6.3" text-anchor="start" fill="#2b2b2b" textLength="19.8" lengthAdjust="spacingAndGlyphs" >Diverse</text>
<rect x="434.90" y="368.20" width="5.50" height="5.30" fill="#808080" />
<text x="443.70" y="372.80" font-size="6.3" text-anchor="start" fill="#2b2b2b" textLength="31.3" lengthAdjust="spacingAndGlyphs" >None/Other</text>
<text x="143.40" y="398.00" font-size="7.9" text-anchor="middle" fill="#2b2b2b" textLength="141.8" lengthAdjust="spacingAndGlyphs" >Confusion matrix: Holdout (112 samples)</text>
<rect x="65.40" y="402.70" width="155.88" height="145.53" fill="#440f5a" />
<rect x="65.40" y="402.70" width="17.32" height="16.17" fill="#f7e72c" />
<text x="74.06" y="412.88" font-size="6.4" text-anchor="middle" fill="#222" stroke="#222" stroke-width="0.2">1</text>
<rect x="82.72" y="418.87" width="17.32" height="16.17" fill="#f7e72c" />
<text x="91.38" y="429.06" font-size="6.4" text-anchor="middle" fill="#222" stroke="#222" stroke-width="0.2">3</text>
<rect x="100.04" y="435.04" width="17.32" height="16.17" fill="#f7e72c" />
<text x="108.70" y="445.22" font-size="6.4" text-anchor="middle" fill="#222" stroke="#222" stroke-width="0.2">6</text>
<rect x="117.36" y="451.21" width="17.32" height="16.17" fill="#f7e72c" />
<text x="126.02" y="461.39" font-size="6.4" text-anchor="middle" fill="#222" stroke="#222" stroke-width="0.2">7</text>
<rect x="134.68" y="467.38" width="17.32" height="16.17" fill="#f7e72c" />
<text x="143.34" y="477.56" font-size="6.4" text-anchor="middle" fill="#222" stroke="#222" stroke-width="0.2">51</text>
<rect x="203.96" y="467.38" width="17.32" height="16.17" fill="#451c66" />
<text x="212.62" y="477.56" font-size="6.4" text-anchor="middle" fill="#fff" stroke="#fff" stroke-width="0.2">1</text>
<rect x="152.00" y="483.55" width="17.32" height="16.17" fill="#f7e72c" />
<text x="160.66" y="493.74" font-size="6.4" text-anchor="middle" fill="#222" stroke="#222" stroke-width="0.2">11</text>
<rect x="169.32" y="499.72" width="17.32" height="16.17" fill="#f7e72c" />
<text x="177.98" y="509.91" font-size="6.4" text-anchor="middle" fill="#222" stroke="#222" stroke-width="0.2">17</text>
<rect x="169.32" y="515.89" width="17.32" height="16.17" fill="#3e4a92" />
<text x="177.98" y="526.08" font-size="6.4" text-anchor="middle" fill="#fff" stroke="#fff" stroke-width="0.2">2</text>
<rect x="186.64" y="515.89" width="17.32" height="16.17" fill="#8ad647" />
<text x="195.30" y="526.08" font-size="6.4" text-anchor="middle" fill="#222" stroke="#222" stroke-width="0.2">13</text>
<rect x="65.40" y="402.70" width="155.88" height="145.53" fill="none" stroke="#111" stroke-width="0.8"/>
<line x1="62.60" y1="410.50" x2="65.40" y2="410.50" stroke="#222" stroke-width="1.0"/>
<text x="59.80" y="413.48" font-size="6.4" text-anchor="end" fill="#333" textLength="23.8" lengthAdjust="spacingAndGlyphs" >BCL11B</text>
<line x1="74.50" y1="548.23" x2="74.50" y2="551.03" stroke="#222" stroke-width="1.0"/>
<text x="76.26" y="554.43" font-size="6.3" text-anchor="end" fill="#333" textLength="23.8" lengthAdjust="spacingAndGlyphs" transform="rotate(-90 76.26 554.43)" >BCL11B</text>
<line x1="62.60" y1="426.50" x2="65.40" y2="426.50" stroke="#222" stroke-width="1.0"/>
<text x="59.80" y="429.65" font-size="6.4" text-anchor="end" fill="#333" textLength="39.9" lengthAdjust="spacingAndGlyphs" >HOXA_KMT2A</text>
<line x1="91.50" y1="548.23" x2="91.50" y2="551.03" stroke="#222" stroke-width="1.0"/>
<text x="93.58" y="554.43" font-size="6.3" text-anchor="end" fill="#333" textLength="39.9" lengthAdjust="spacingAndGlyphs" transform="rotate(-90 93.58 554.43)" >HOXA_KMT2A</text>
<line x1="62.60" y1="443.50" x2="65.40" y2="443.50" stroke="#222" stroke-width="1.0"/>
<text x="59.80" y="445.82" font-size="6.4" text-anchor="end" fill="#333" textLength="41.6" lengthAdjust="spacingAndGlyphs" >HOXA_MLLT10</text>
<line x1="108.50" y1="548.23" x2="108.50" y2="551.03" stroke="#222" stroke-width="1.0"/>
<text x="110.90" y="554.43" font-size="6.3" text-anchor="end" fill="#333" textLength="41.6" lengthAdjust="spacingAndGlyphs" transform="rotate(-90 110.90 554.43)" >HOXA_MLLT10</text>
<line x1="62.60" y1="459.50" x2="65.40" y2="459.50" stroke="#222" stroke-width="1.0"/>
<text x="59.80" y="461.99" font-size="6.4" text-anchor="end" fill="#333" textLength="16.1" lengthAdjust="spacingAndGlyphs" >NKX2</text>
<line x1="126.50" y1="548.23" x2="126.50" y2="551.03" stroke="#222" stroke-width="1.0"/>
<text x="128.22" y="554.43" font-size="6.3" text-anchor="end" fill="#333" textLength="16.1" lengthAdjust="spacingAndGlyphs" transform="rotate(-90 128.22 554.43)" >NKX2</text>
<line x1="62.60" y1="475.50" x2="65.40" y2="475.50" stroke="#222" stroke-width="1.0"/>
<text x="59.80" y="478.16" font-size="6.4" text-anchor="end" fill="#333" textLength="25.5" lengthAdjust="spacingAndGlyphs" >TAL/LMO</text>
<line x1="143.50" y1="548.23" x2="143.50" y2="551.03" stroke="#222" stroke-width="1.0"/>
<text x="145.54" y="554.43" font-size="6.3" text-anchor="end" fill="#333" textLength="25.5" lengthAdjust="spacingAndGlyphs" transform="rotate(-90 145.54 554.43)" >TAL/LMO</text>
<line x1="62.60" y1="491.50" x2="65.40" y2="491.50" stroke="#222" stroke-width="1.0"/>
<text x="59.80" y="494.33" font-size="6.4" text-anchor="end" fill="#333" textLength="13.4" lengthAdjust="spacingAndGlyphs" >TLX1</text>
<line x1="160.50" y1="548.23" x2="160.50" y2="551.03" stroke="#222" stroke-width="1.0"/>
<text x="162.86" y="554.43" font-size="6.3" text-anchor="end" fill="#333" textLength="13.4" lengthAdjust="spacingAndGlyphs" transform="rotate(-90 162.86 554.43)" >TLX1</text>
<line x1="62.60" y1="507.50" x2="65.40" y2="507.50" stroke="#222" stroke-width="1.0"/>
<text x="59.80" y="510.50" font-size="6.4" text-anchor="end" fill="#333" textLength="13.4" lengthAdjust="spacingAndGlyphs" >TLX3</text>
<line x1="177.50" y1="548.23" x2="177.50" y2="551.03" stroke="#222" stroke-width="1.0"/>
<text x="180.18" y="554.43" font-size="6.3" text-anchor="end" fill="#333" textLength="13.4" lengthAdjust="spacingAndGlyphs" transform="rotate(-90 180.18 554.43)" >TLX3</text>
<line x1="62.60" y1="523.50" x2="65.40" y2="523.50" stroke="#222" stroke-width="1.0"/>
<text x="59.80" y="526.68" font-size="6.4" text-anchor="end" fill="#333" textLength="19.8" lengthAdjust="spacingAndGlyphs" >Diverse</text>
<line x1="195.50" y1="548.23" x2="195.50" y2="551.03" stroke="#222" stroke-width="1.0"/>
<text x="197.50" y="554.43" font-size="6.3" text-anchor="end" fill="#333" textLength="19.8" lengthAdjust="spacingAndGlyphs" transform="rotate(-90 197.50 554.43)" >Diverse</text>
<line x1="62.60" y1="540.50" x2="65.40" y2="540.50" stroke="#222" stroke-width="1.0"/>
<text x="59.80" y="542.85" font-size="6.4" text-anchor="end" fill="#333" textLength="31.3" lengthAdjust="spacingAndGlyphs" >None/Other</text>
<line x1="212.50" y1="548.23" x2="212.50" y2="551.03" stroke="#222" stroke-width="1.0"/>
<text x="214.82" y="554.43" font-size="6.3" text-anchor="end" fill="#333" textLength="31.3" lengthAdjust="spacingAndGlyphs" transform="rotate(-90 214.82 554.43)" >None/Other</text>
<text x="143.40" y="605.40" font-size="8.0" text-anchor="middle" fill="#2b2b2b" textLength="47.3" lengthAdjust="spacingAndGlyphs" stroke="#2b2b2b" stroke-width="0.22">Predicted subtypes</text>
<text x="13.40" y="475.90" font-size="7.8" text-anchor="middle" fill="#2b2b2b" textLength="34.6" lengthAdjust="spacingAndGlyphs" transform="rotate(-90 13.40 475.90)" stroke="#2b2b2b" stroke-width="0.22">True subtypes</text>
<defs><linearGradient id="g65" x1="0" y1="1" x2="0" y2="0"><stop offset="0.0" stop-color="#440154"/><stop offset="0.1" stop-color="#482475"/><stop offset="0.2" stop-color="#414487"/><stop offset="0.3" stop-color="#355f8d"/><stop offset="0.4" stop-color="#2a788e"/><stop offset="0.5" stop-color="#21918c"/><stop offset="0.6" stop-color="#22a884"/><stop offset="0.7" stop-color="#44bf70"/><stop offset="0.8" stop-color="#7ad151"/><stop offset="0.9" stop-color="#bddf26"/><stop offset="1.0" stop-color="#fde725"/></linearGradient></defs>
<rect x="230.90" y="402.9" width="7.6" height="145.4" fill="url(#g65)" stroke="#222" stroke-width="0.8"/>
<line x1="238.50" y1="548.50" x2="240.90" y2="548.50" stroke="#222" stroke-width="1.0"/>
<text x="244.20" y="550.40" font-size="6.1" text-anchor="start" fill="#333" >0.0</text>
<line x1="238.50" y1="519.50" x2="240.90" y2="519.50" stroke="#222" stroke-width="1.0"/>
<text x="244.20" y="521.32" font-size="6.1" text-anchor="start" fill="#333" >0.2</text>
<line x1="238.50" y1="490.50" x2="240.90" y2="490.50" stroke="#222" stroke-width="1.0"/>
<text x="244.20" y="492.24" font-size="6.1" text-anchor="start" fill="#333" >0.4</text>
<line x1="238.50" y1="461.50" x2="240.90" y2="461.50" stroke="#222" stroke-width="1.0"/>
<text x="244.20" y="463.16" font-size="6.1" text-anchor="start" fill="#333" >0.6</text>
<line x1="238.50" y1="431.50" x2="240.90" y2="431.50" stroke="#222" stroke-width="1.0"/>
<text x="244.20" y="434.08" font-size="6.1" text-anchor="start" fill="#333" >0.8</text>
<line x1="238.50" y1="402.50" x2="240.90" y2="402.50" stroke="#222" stroke-width="1.0"/>
<text x="244.20" y="405.00" font-size="6.1" text-anchor="start" fill="#333" >1.0</text>
<text x="403.70" y="398.00" font-size="7.9" text-anchor="middle" fill="#2b2b2b" textLength="154.2" lengthAdjust="spacingAndGlyphs" >Confusion matrix: Independent (66 samples)</text>
<rect x="325.70" y="402.70" width="155.88" height="145.53" fill="#440f5a" />
<rect x="325.70" y="402.70" width="17.32" height="16.17" fill="#f7e72c" />
<text x="334.36" y="412.88" font-size="6.4" text-anchor="middle" fill="#222" stroke="#222" stroke-width="0.2">1</text>
<rect x="343.02" y="418.87" width="17.32" height="16.17" fill="#f7e72c" />
<text x="351.68" y="429.06" font-size="6.4" text-anchor="middle" fill="#222" stroke="#222" stroke-width="0.2">2</text>
<rect x="360.34" y="435.04" width="17.32" height="16.17" fill="#37779a" />
<text x="369.00" y="445.22" font-size="6.4" text-anchor="middle" fill="#fff" stroke="#fff" stroke-width="0.2">1</text>
<rect x="464.26" y="435.04" width="17.32" height="16.17" fill="#3dbb88" />
<text x="472.92" y="445.22" font-size="6.4" text-anchor="middle" fill="#222" stroke="#222" stroke-width="0.2">2</text>
<rect x="377.66" y="451.21" width="17.32" height="16.17" fill="#f7e72c" />
<text x="386.32" y="461.39" font-size="6.4" text-anchor="middle" fill="#222" stroke="#222" stroke-width="0.2">5</text>
<rect x="394.98" y="467.38" width="17.32" height="16.17" fill="#f7e72c" />
<text x="403.64" y="477.56" font-size="6.4" text-anchor="middle" fill="#222" stroke="#222" stroke-width="0.2">30</text>
<rect x="464.26" y="467.38" width="17.32" height="16.17" fill="#46206a" />
<text x="472.92" y="477.56" font-size="6.4" text-anchor="middle" fill="#fff" stroke="#fff" stroke-width="0.2">1</text>
<rect x="412.30" y="483.55" width="17.32" height="16.17" fill="#f7e72c" />
<text x="420.96" y="493.74" font-size="6.4" text-anchor="middle" fill="#222" stroke="#222" stroke-width="0.2">2</text>
<rect x="429.62" y="499.72" width="17.32" height="16.17" fill="#f7e72c" />
<text x="438.28" y="509.91" font-size="6.4" text-anchor="middle" fill="#222" stroke="#222" stroke-width="0.2">7</text>
<rect x="446.94" y="515.89" width="17.32" height="16.17" fill="#c6df2e" />
<text x="455.60" y="526.08" font-size="6.4" text-anchor="middle" fill="#222" stroke="#222" stroke-width="0.2">14</text>
<rect x="464.26" y="515.89" width="17.32" height="16.17" fill="#472a78" />
<text x="472.92" y="526.08" font-size="6.4" text-anchor="middle" fill="#fff" stroke="#fff" stroke-width="0.2">1</text>
<rect x="325.70" y="402.70" width="155.88" height="145.53" fill="none" stroke="#111" stroke-width="0.8"/>
<line x1="322.90" y1="410.50" x2="325.70" y2="410.50" stroke="#222" stroke-width="1.0"/>
<text x="320.10" y="413.48" font-size="6.4" text-anchor="end" fill="#333" textLength="23.8" lengthAdjust="spacingAndGlyphs" >BCL11B</text>
<line x1="334.50" y1="548.23" x2="334.50" y2="551.03" stroke="#222" stroke-width="1.0"/>
<text x="336.56" y="554.43" font-size="6.3" text-anchor="end" fill="#333" textLength="23.8" lengthAdjust="spacingAndGlyphs" transform="rotate(-90 336.56 554.43)" >BCL11B</text>
<line x1="322.90" y1="426.50" x2="325.70" y2="426.50" stroke="#222" stroke-width="1.0"/>
<text x="320.10" y="429.65" font-size="6.4" text-anchor="end" fill="#333" textLength="39.9" lengthAdjust="spacingAndGlyphs" >HOXA_KMT2A</text>
<line x1="351.50" y1="548.23" x2="351.50" y2="551.03" stroke="#222" stroke-width="1.0"/>
<text x="353.88" y="554.43" font-size="6.3" text-anchor="end" fill="#333" textLength="39.9" lengthAdjust="spacingAndGlyphs" transform="rotate(-90 353.88 554.43)" >HOXA_KMT2A</text>
<line x1="322.90" y1="443.50" x2="325.70" y2="443.50" stroke="#222" stroke-width="1.0"/>
<text x="320.10" y="445.82" font-size="6.4" text-anchor="end" fill="#333" textLength="41.6" lengthAdjust="spacingAndGlyphs" >HOXA_MLLT10</text>
<line x1="369.50" y1="548.23" x2="369.50" y2="551.03" stroke="#222" stroke-width="1.0"/>
<text x="371.20" y="554.43" font-size="6.3" text-anchor="end" fill="#333" textLength="41.6" lengthAdjust="spacingAndGlyphs" transform="rotate(-90 371.20 554.43)" >HOXA_MLLT10</text>
<line x1="322.90" y1="459.50" x2="325.70" y2="459.50" stroke="#222" stroke-width="1.0"/>
<text x="320.10" y="461.99" font-size="6.4" text-anchor="end" fill="#333" textLength="16.1" lengthAdjust="spacingAndGlyphs" >NKX2</text>
<line x1="386.50" y1="548.23" x2="386.50" y2="551.03" stroke="#222" stroke-width="1.0"/>
<text x="388.52" y="554.43" font-size="6.3" text-anchor="end" fill="#333" textLength="16.1" lengthAdjust="spacingAndGlyphs" transform="rotate(-90 388.52 554.43)" >NKX2</text>
<line x1="322.90" y1="475.50" x2="325.70" y2="475.50" stroke="#222" stroke-width="1.0"/>
<text x="320.10" y="478.16" font-size="6.4" text-anchor="end" fill="#333" textLength="25.5" lengthAdjust="spacingAndGlyphs" >TAL/LMO</text>
<line x1="403.50" y1="548.23" x2="403.50" y2="551.03" stroke="#222" stroke-width="1.0"/>
<text x="405.84" y="554.43" font-size="6.3" text-anchor="end" fill="#333" textLength="25.5" lengthAdjust="spacingAndGlyphs" transform="rotate(-90 405.84 554.43)" >TAL/LMO</text>
<line x1="322.90" y1="491.50" x2="325.70" y2="491.50" stroke="#222" stroke-width="1.0"/>
<text x="320.10" y="494.33" font-size="6.4" text-anchor="end" fill="#333" textLength="13.4" lengthAdjust="spacingAndGlyphs" >TLX1</text>
<line x1="420.50" y1="548.23" x2="420.50" y2="551.03" stroke="#222" stroke-width="1.0"/>
<text x="423.16" y="554.43" font-size="6.3" text-anchor="end" fill="#333" textLength="13.4" lengthAdjust="spacingAndGlyphs" transform="rotate(-90 423.16 554.43)" >TLX1</text>
<line x1="322.90" y1="507.50" x2="325.70" y2="507.50" stroke="#222" stroke-width="1.0"/>
<text x="320.10" y="510.50" font-size="6.4" text-anchor="end" fill="#333" textLength="13.4" lengthAdjust="spacingAndGlyphs" >TLX3</text>
<line x1="438.50" y1="548.23" x2="438.50" y2="551.03" stroke="#222" stroke-width="1.0"/>
<text x="440.48" y="554.43" font-size="6.3" text-anchor="end" fill="#333" textLength="13.4" lengthAdjust="spacingAndGlyphs" transform="rotate(-90 440.48 554.43)" >TLX3</text>
<line x1="322.90" y1="523.50" x2="325.70" y2="523.50" stroke="#222" stroke-width="1.0"/>
<text x="320.10" y="526.68" font-size="6.4" text-anchor="end" fill="#333" textLength="19.8" lengthAdjust="spacingAndGlyphs" >Diverse</text>
<line x1="455.50" y1="548.23" x2="455.50" y2="551.03" stroke="#222" stroke-width="1.0"/>
<text x="457.80" y="554.43" font-size="6.3" text-anchor="end" fill="#333" textLength="19.8" lengthAdjust="spacingAndGlyphs" transform="rotate(-90 457.80 554.43)" >Diverse</text>
<line x1="322.90" y1="540.50" x2="325.70" y2="540.50" stroke="#222" stroke-width="1.0"/>
<text x="320.10" y="542.85" font-size="6.4" text-anchor="end" fill="#333" textLength="31.3" lengthAdjust="spacingAndGlyphs" >None/Other</text>
<line x1="472.50" y1="548.23" x2="472.50" y2="551.03" stroke="#222" stroke-width="1.0"/>
<text x="475.12" y="554.43" font-size="6.3" text-anchor="end" fill="#333" textLength="31.3" lengthAdjust="spacingAndGlyphs" transform="rotate(-90 475.12 554.43)" >None/Other</text>
<text x="403.70" y="605.40" font-size="8.0" text-anchor="middle" fill="#2b2b2b" textLength="47.3" lengthAdjust="spacingAndGlyphs" stroke="#2b2b2b" stroke-width="0.22">Predicted subtypes</text>
<text x="273.70" y="475.90" font-size="7.8" text-anchor="middle" fill="#2b2b2b" textLength="34.6" lengthAdjust="spacingAndGlyphs" transform="rotate(-90 273.70 475.90)" stroke="#2b2b2b" stroke-width="0.22">True subtypes</text>
<defs><linearGradient id="g325" x1="0" y1="1" x2="0" y2="0"><stop offset="0.0" stop-color="#440154"/><stop offset="0.1" stop-color="#482475"/><stop offset="0.2" stop-color="#414487"/><stop offset="0.3" stop-color="#355f8d"/><stop offset="0.4" stop-color="#2a788e"/><stop offset="0.5" stop-color="#21918c"/><stop offset="0.6" stop-color="#22a884"/><stop offset="0.7" stop-color="#44bf70"/><stop offset="0.8" stop-color="#7ad151"/><stop offset="0.9" stop-color="#bddf26"/><stop offset="1.0" stop-color="#fde725"/></linearGradient></defs>
<rect x="491.60" y="402.9" width="7.6" height="145.4" fill="url(#g325)" stroke="#222" stroke-width="0.8"/>
<line x1="499.20" y1="548.50" x2="501.60" y2="548.50" stroke="#222" stroke-width="1.0"/>
<text x="504.90" y="550.40" font-size="6.1" text-anchor="start" fill="#333" >0.0</text>
<line x1="499.20" y1="519.50" x2="501.60" y2="519.50" stroke="#222" stroke-width="1.0"/>
<text x="504.90" y="521.32" font-size="6.1" text-anchor="start" fill="#333" >0.2</text>
<line x1="499.20" y1="490.50" x2="501.60" y2="490.50" stroke="#222" stroke-width="1.0"/>
<text x="504.90" y="492.24" font-size="6.1" text-anchor="start" fill="#333" >0.4</text>
<line x1="499.20" y1="461.50" x2="501.60" y2="461.50" stroke="#222" stroke-width="1.0"/>
<text x="504.90" y="463.16" font-size="6.1" text-anchor="start" fill="#333" >0.6</text>
<line x1="499.20" y1="431.50" x2="501.60" y2="431.50" stroke="#222" stroke-width="1.0"/>
<text x="504.90" y="434.08" font-size="6.1" text-anchor="start" fill="#333" >0.8</text>
<line x1="499.20" y1="402.50" x2="501.60" y2="402.50" stroke="#222" stroke-width="1.0"/>
<text x="504.90" y="405.00" font-size="6.1" text-anchor="start" fill="#333" >1.0</text>
</svg></div></body></html>
